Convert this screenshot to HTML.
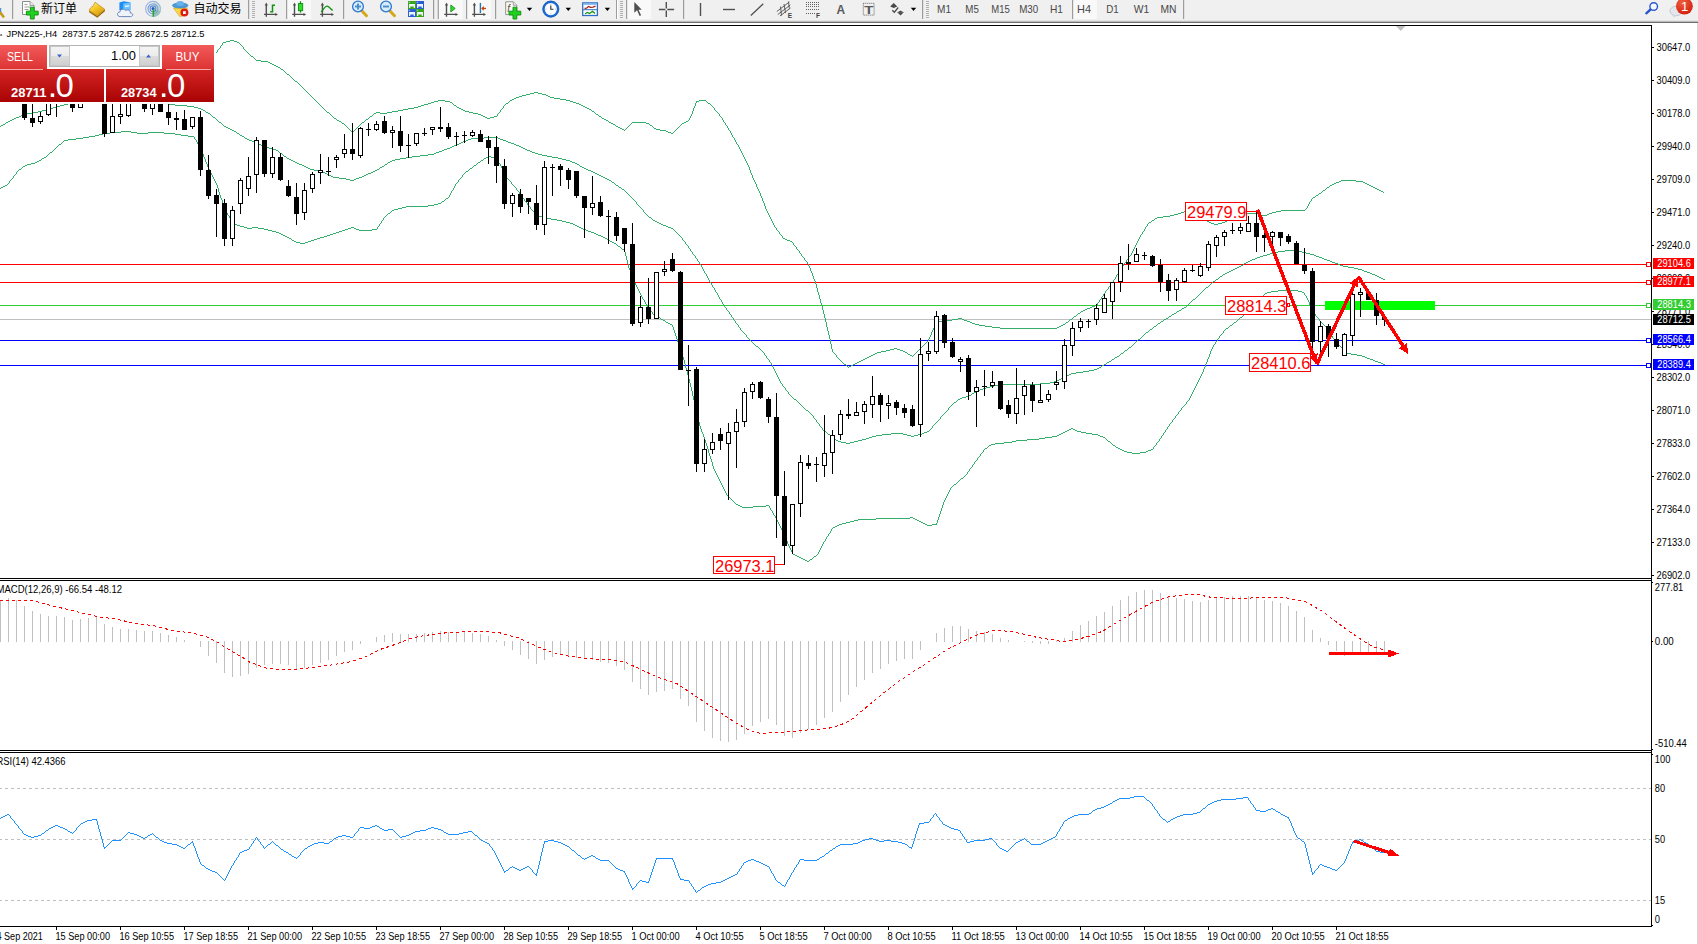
<!DOCTYPE html>
<html lang="zh"><head><meta charset="utf-8"><title>JPN225-,H4</title>
<style>html,body{margin:0;padding:0;background:#fff;overflow:hidden}svg{display:block}text{font-family:"Liberation Sans","Noto Sans CJK SC",sans-serif;white-space:pre}</style></head>
<body><svg width="1698" height="944" viewBox="0 0 1698 944">
<defs>
<linearGradient id="gSell" x1="0" y1="0" x2="0" y2="1"><stop offset="0" stop-color="#f25a5a"/><stop offset="1" stop-color="#dc3232"/></linearGradient>
<linearGradient id="gPrice" x1="0" y1="0" x2="0" y2="1"><stop offset="0" stop-color="#d42424"/><stop offset="1" stop-color="#a90303"/></linearGradient>
<linearGradient id="gBtn" x1="0" y1="0" x2="0" y2="1"><stop offset="0" stop-color="#f4f4f4"/><stop offset="0.5" stop-color="#ebebeb"/><stop offset="0.5" stop-color="#dddddd"/><stop offset="1" stop-color="#cfcfcf"/></linearGradient>
<linearGradient id="gGold" x1="0.1" y1="0" x2="0.8" y2="1"><stop offset="0" stop-color="#fff08c"/><stop offset="0.45" stop-color="#f6c624"/><stop offset="1" stop-color="#cc9414"/></linearGradient>
<linearGradient id="gBlue" x1="0" y1="0" x2="0" y2="1"><stop offset="0" stop-color="#9fd0ff"/><stop offset="1" stop-color="#2a78d8"/></linearGradient>
<radialGradient id="gRed" cx="0.4" cy="0.3" r="0.8"><stop offset="0" stop-color="#f06040"/><stop offset="1" stop-color="#d01808"/></radialGradient>
</defs>
<rect width="1698" height="944" fill="#fff"/>

<g shape-rendering="crispEdges">
<rect x="0" y="264" width="1647" height="1" fill="#ff0000" />
<rect x="0" y="282" width="1647" height="1" fill="#ff0000" />
<rect x="0" y="305" width="1647" height="1" fill="#32cd32" />
<rect x="0" y="319" width="1651" height="1" fill="#c0c0c0" />
<rect x="0" y="340" width="1647" height="1" fill="#0000ff" />
<rect x="0" y="365" width="1647" height="1" fill="#0000ff" />
<rect x="1325" y="301" width="110" height="9" fill="#00ff00"/>
</g>
<g shape-rendering="crispEdges">
<path d="M230 40h4v1h-4zM226 41h4v1h-4zM234 41h3v1h-3zM223 42h3v1h-3zM237 42h2v1h-2zM213 54h2v1h-2zM251 56h2v1h-2zM207 59h2v1h-2zM256 60h5v1h-5zM261 61h7v1h-7zM268 62h2v1h-2zM270 63h2v1h-2zM272 64h2v1h-2zM274 65h2v1h-2zM276 66h2v1h-2zM278 67h2v1h-2zM281 69h2v1h-2zM287 74h2v1h-2zM295 81h2v1h-2zM534 92h4v1h-4zM530 93h4v1h-4zM538 93h4v1h-4zM526 94h4v1h-4zM542 94h4v1h-4zM522 95h4v1h-4zM546 95h2v1h-2zM519 96h3v1h-3zM548 96h2v1h-2zM516 97h3v1h-3zM550 97h4v1h-4zM514 98h2v1h-2zM554 98h6v1h-6zM512 99h2v1h-2zM560 99h6v1h-6zM438 100h7v1h-7zM510 100h2v1h-2zM566 100h4v1h-4zM699 100h7v1h-7zM434 101h4v1h-4zM445 101h5v1h-5zM570 101h3v1h-3zM696 101h3v1h-3zM431 102h3v1h-3zM450 102h2v1h-2zM573 102h3v1h-3zM428 103h3v1h-3zM506 103h2v1h-2zM576 103h3v1h-3zM708 103h2v1h-2zM424 104h4v1h-4zM579 104h2v1h-2zM421 105h3v1h-3zM454 105h2v1h-2zM581 105h2v1h-2zM418 106h3v1h-3zM583 106h2v1h-2zM414 107h4v1h-4zM457 107h2v1h-2zM585 107h2v1h-2zM408 108h6v1h-6zM459 108h2v1h-2zM587 108h2v1h-2zM403 109h5v1h-5zM461 109h2v1h-2zM589 109h2v1h-2zM398 110h5v1h-5zM463 110h2v1h-2zM392 111h6v1h-6zM465 111h4v1h-4zM592 111h2v1h-2zM327 112h2v1h-2zM376 112h4v1h-4zM387 112h5v1h-5zM469 112h4v1h-4zM374 113h2v1h-2zM380 113h7v1h-7zM473 113h5v1h-5zM478 114h3v1h-3zM596 114h2v1h-2zM481 115h2v1h-2zM370 116h2v1h-2zM483 116h2v1h-2zM494 116h3v1h-3zM599 116h2v1h-2zM485 117h2v1h-2zM490 117h4v1h-4zM334 118h2v1h-2zM487 118h3v1h-3zM602 118h2v1h-2zM366 119h2v1h-2zM604 119h2v1h-2zM337 120h2v1h-2zM606 120h2v1h-2zM339 121h2v1h-2zM686 121h2v1h-2zM362 122h2v1h-2zM609 122h2v1h-2zM632 122h14v1h-14zM684 122h2v1h-2zM342 123h2v1h-2zM611 123h2v1h-2zM646 123h3v1h-3zM682 123h2v1h-2zM613 124h2v1h-2zM650 125h2v1h-2zM616 126h2v1h-2zM618 127h2v1h-2zM620 128h2v1h-2zM654 128h2v1h-2zM622 129h2v1h-2zM656 129h4v1h-4zM660 130h6v1h-6zM666 131h2v1h-2zM668 132h3v1h-3zM671 133h2v1h-2zM1341 180h15v1h-15zM1339 181h2v1h-2zM1356 181h7v1h-7zM1336 182h3v1h-3zM1363 182h2v1h-2zM1334 183h2v1h-2zM1365 183h2v1h-2zM1332 184h2v1h-2zM1367 184h2v1h-2zM1330 185h2v1h-2zM1369 185h2v1h-2zM1371 186h2v1h-2zM1327 187h2v1h-2zM1373 187h2v1h-2zM1375 188h2v1h-2zM1377 189h2v1h-2zM1323 190h2v1h-2zM1379 190h2v1h-2zM1381 191h2v1h-2zM1319 193h2v1h-2zM1316 195h2v1h-2zM1313 197h2v1h-2zM1281 210h24v1h-24zM1184 211h3v1h-3zM1276 211h5v1h-5zM1181 212h3v1h-3zM1187 212h4v1h-4zM1272 212h4v1h-4zM1178 213h3v1h-3zM1191 213h4v1h-4zM1245 213h13v1h-13zM1269 213h3v1h-3zM1174 214h4v1h-4zM1195 214h2v1h-2zM1243 214h2v1h-2zM1258 214h2v1h-2zM1267 214h2v1h-2zM1170 215h4v1h-4zM1197 215h2v1h-2zM1241 215h2v1h-2zM1260 215h7v1h-7zM1163 216h7v1h-7zM1238 216h3v1h-3zM1157 217h6v1h-6zM1200 217h2v1h-2zM1234 217h4v1h-4zM1155 218h2v1h-2zM1202 218h2v1h-2zM1231 218h3v1h-3zM1229 219h2v1h-2zM1152 220h2v1h-2zM1205 220h2v1h-2zM1227 220h2v1h-2zM1207 221h2v1h-2zM1225 221h2v1h-2zM1149 222h2v1h-2zM1209 222h2v1h-2zM1222 222h3v1h-3zM1211 223h3v1h-3zM1218 223h4v1h-4zM1214 224h4v1h-4zM783 238h2v1h-2zM785 239h2v1h-2zM787 240h3v1h-3zM790 241h2v1h-2zM1095 305h2v1h-2zM1092 306h3v1h-3zM1090 307h2v1h-2zM1087 308h3v1h-3zM1085 309h2v1h-2zM1083 310h2v1h-2zM1081 311h2v1h-2zM1078 313h2v1h-2zM1074 316h2v1h-2zM958 318h4v1h-4zM952 319h6v1h-6zM962 319h2v1h-2zM1070 319h2v1h-2zM943 320h9v1h-9zM964 320h3v1h-3zM936 321h7v1h-7zM967 321h3v1h-3zM970 322h2v1h-2zM1066 322h2v1h-2zM972 323h3v1h-3zM975 324h4v1h-4zM1063 324h2v1h-2zM979 325h6v1h-6zM1061 325h2v1h-2zM985 326h7v1h-7zM1059 326h2v1h-2zM992 327h8v1h-8zM1057 327h2v1h-2zM1000 328h57v1h-57zM894 348h3v1h-3zM890 349h4v1h-4zM897 349h3v1h-3zM886 350h4v1h-4zM900 350h3v1h-3zM881 351h5v1h-5zM903 351h2v1h-2zM877 352h4v1h-4zM905 352h2v1h-2zM875 353h2v1h-2zM873 354h2v1h-2zM908 354h2v1h-2zM871 355h2v1h-2zM910 355h2v1h-2zM869 356h2v1h-2zM867 357h2v1h-2zM865 358h2v1h-2zM863 359h2v1h-2zM861 360h2v1h-2zM859 361h2v1h-2zM857 362h2v1h-2zM855 363h2v1h-2zM844 364h2v1h-2zM853 364h2v1h-2zM851 365h2v1h-2zM849 366h2v1h-2zM204 62h1v1h-1zM205 61h1v1h-1zM206 60h1v1h-1zM209 58h1v1h-1zM210 57h1v1h-1zM211 56h1v1h-1zM212 55h1v1h-1zM215 53h1v1h-1zM216 52h1v1h-1zM217 50h1v2h-1zM218 49h1v1h-1zM219 48h1v1h-1zM220 46h1v2h-1zM221 45h1v1h-1zM222 43h1v2h-1zM239 43h1v1h-1zM240 44h1v1h-1zM241 45h1v1h-1zM242 46h1v1h-1zM243 47h1v2h-1zM244 49h1v1h-1zM245 50h1v1h-1zM246 51h1v1h-1zM247 52h1v1h-1zM248 53h1v1h-1zM249 54h1v1h-1zM250 55h1v1h-1zM253 57h1v1h-1zM254 58h1v1h-1zM255 59h1v1h-1zM280 68h1v1h-1zM283 70h1v1h-1zM284 71h1v1h-1zM285 72h1v1h-1zM286 73h1v1h-1zM289 75h1v1h-1zM290 76h1v1h-1zM291 77h1v1h-1zM292 78h1v1h-1zM293 79h1v1h-1zM294 80h1v1h-1zM297 82h1v1h-1zM298 83h1v1h-1zM299 84h1v1h-1zM300 85h1v1h-1zM301 86h1v1h-1zM302 87h1v1h-1zM303 88h1v1h-1zM304 89h1v1h-1zM305 90h1v1h-1zM306 91h1v1h-1zM307 92h1v1h-1zM308 93h1v1h-1zM309 94h1v1h-1zM310 95h1v1h-1zM311 96h1v1h-1zM312 97h1v1h-1zM313 98h1v1h-1zM314 99h1v1h-1zM315 100h1v1h-1zM316 101h1v1h-1zM317 102h1v1h-1zM318 103h1v1h-1zM319 104h1v1h-1zM320 105h1v1h-1zM321 106h1v1h-1zM322 107h1v1h-1zM323 108h1v1h-1zM324 109h1v1h-1zM325 110h1v1h-1zM326 111h1v1h-1zM329 113h1v1h-1zM330 114h1v1h-1zM331 115h1v1h-1zM332 116h1v1h-1zM333 117h1v1h-1zM336 119h1v1h-1zM341 122h1v1h-1zM344 124h1v1h-1zM345 125h1v1h-1zM346 126h1v1h-1zM347 127h1v1h-1zM348 128h1v1h-1zM349 129h1v1h-1zM350 130h1v1h-1zM351 131h1v1h-1zM352 132h1v1h-1zM353 131h1v1h-1zM354 130h1v1h-1zM355 129h1v1h-1zM356 128h1v1h-1zM357 127h1v1h-1zM358 126h1v1h-1zM359 125h1v1h-1zM360 124h1v1h-1zM361 123h1v1h-1zM364 121h1v1h-1zM365 120h1v1h-1zM368 118h1v1h-1zM369 117h1v1h-1zM372 115h1v1h-1zM373 114h1v1h-1zM452 103h1v1h-1zM453 104h1v1h-1zM456 106h1v1h-1zM497 114h1v2h-1zM498 113h1v1h-1zM499 112h1v1h-1zM500 110h1v2h-1zM501 109h1v1h-1zM502 108h1v1h-1zM503 106h1v2h-1zM504 105h1v1h-1zM505 104h1v1h-1zM508 102h1v1h-1zM509 101h1v1h-1zM591 110h1v1h-1zM594 112h1v1h-1zM595 113h1v1h-1zM598 115h1v1h-1zM601 117h1v1h-1zM608 121h1v1h-1zM615 125h1v1h-1zM624 130h1v1h-1zM625 129h1v1h-1zM626 128h1v1h-1zM627 127h1v1h-1zM628 126h1v1h-1zM629 125h1v1h-1zM630 124h1v1h-1zM631 123h1v1h-1zM649 124h1v1h-1zM652 126h1v1h-1zM653 127h1v1h-1zM673 132h1v1h-1zM674 131h1v1h-1zM675 130h1v1h-1zM676 129h1v1h-1zM677 128h1v1h-1zM678 127h1v1h-1zM679 126h1v1h-1zM680 125h1v1h-1zM681 124h1v1h-1zM688 120h1v1h-1zM689 118h1v2h-1zM690 116h1v2h-1zM691 114h1v2h-1zM692 111h1v3h-1zM693 108h1v3h-1zM694 106h1v2h-1zM695 103h1v3h-1zM696 102h1v1h-1zM706 101h1v1h-1zM707 102h1v1h-1zM710 104h1v1h-1zM711 105h1v1h-1zM712 106h1v1h-1zM713 107h1v1h-1zM714 108h1v2h-1zM715 110h1v1h-1zM716 111h1v1h-1zM717 112h1v1h-1zM718 113h1v1h-1zM719 114h1v2h-1zM720 116h1v1h-1zM721 117h1v1h-1zM722 118h1v2h-1zM723 120h1v2h-1zM724 122h1v1h-1zM725 123h1v2h-1zM726 125h1v1h-1zM727 126h1v2h-1zM728 128h1v2h-1zM729 130h1v1h-1zM730 131h1v2h-1zM731 133h1v2h-1zM732 135h1v2h-1zM733 137h1v1h-1zM734 138h1v2h-1zM735 140h1v2h-1zM736 142h1v2h-1zM737 144h1v1h-1zM738 145h1v2h-1zM739 147h1v2h-1zM740 149h1v2h-1zM741 151h1v2h-1zM742 153h1v2h-1zM743 155h1v2h-1zM744 157h1v2h-1zM745 159h1v2h-1zM746 161h1v2h-1zM747 163h1v2h-1zM748 165h1v2h-1zM749 167h1v3h-1zM750 170h1v3h-1zM751 173h1v2h-1zM752 175h1v3h-1zM753 178h1v2h-1zM754 180h1v2h-1zM755 182h1v2h-1zM756 184h1v3h-1zM757 187h1v2h-1zM758 189h1v2h-1zM759 191h1v2h-1zM760 193h1v3h-1zM761 196h1v2h-1zM762 198h1v3h-1zM763 201h1v2h-1zM764 203h1v3h-1zM765 206h1v3h-1zM766 209h1v2h-1zM767 211h1v2h-1zM768 213h1v2h-1zM769 215h1v2h-1zM770 217h1v2h-1zM771 219h1v2h-1zM772 221h1v2h-1zM773 223h1v2h-1zM774 225h1v2h-1zM775 227h1v1h-1zM776 228h1v2h-1zM777 230h1v1h-1zM778 231h1v1h-1zM779 232h1v2h-1zM780 234h1v1h-1zM781 235h1v1h-1zM782 236h1v2h-1zM792 242h1v1h-1zM793 243h1v2h-1zM794 245h1v1h-1zM795 246h1v1h-1zM796 247h1v2h-1zM797 249h1v1h-1zM798 250h1v1h-1zM799 251h1v2h-1zM800 253h1v1h-1zM801 254h1v2h-1zM802 256h1v1h-1zM803 257h1v1h-1zM804 258h1v2h-1zM805 260h1v1h-1zM806 261h1v1h-1zM807 262h1v2h-1zM808 264h1v2h-1zM809 266h1v2h-1zM810 268h1v3h-1zM811 271h1v2h-1zM812 273h1v3h-1zM813 276h1v3h-1zM814 279h1v2h-1zM815 281h1v3h-1zM816 284h1v4h-1zM817 288h1v4h-1zM818 292h1v3h-1zM819 295h1v4h-1zM820 299h1v4h-1zM821 303h1v3h-1zM822 306h1v4h-1zM823 310h1v4h-1zM824 314h1v4h-1zM825 318h1v4h-1zM826 322h1v5h-1zM827 327h1v4h-1zM828 331h1v4h-1zM829 335h1v4h-1zM830 339h1v5h-1zM831 344h1v5h-1zM832 349h1v3h-1zM833 352h1v1h-1zM834 353h1v1h-1zM835 354h1v1h-1zM836 355h1v2h-1zM837 357h1v1h-1zM838 358h1v1h-1zM839 359h1v1h-1zM840 360h1v1h-1zM841 361h1v1h-1zM842 362h1v1h-1zM843 363h1v1h-1zM846 365h1v1h-1zM847 366h1v1h-1zM848 367h1v1h-1zM907 353h1v1h-1zM912 356h1v1h-1zM913 355h1v1h-1zM914 354h1v1h-1zM915 353h1v1h-1zM916 352h1v1h-1zM917 351h1v1h-1zM918 350h1v1h-1zM919 349h1v1h-1zM920 348h1v1h-1zM921 347h1v1h-1zM922 346h1v1h-1zM923 345h1v1h-1zM924 344h1v1h-1zM925 343h1v1h-1zM926 342h1v1h-1zM927 341h1v1h-1zM928 339h1v2h-1zM929 337h1v2h-1zM930 335h1v2h-1zM931 332h1v3h-1zM932 330h1v2h-1zM933 328h1v2h-1zM934 325h1v3h-1zM935 323h1v2h-1zM936 322h1v1h-1zM1065 323h1v1h-1zM1068 321h1v1h-1zM1069 320h1v1h-1zM1072 318h1v1h-1zM1073 317h1v1h-1zM1076 315h1v1h-1zM1077 314h1v1h-1zM1080 312h1v1h-1zM1097 303h1v2h-1zM1098 302h1v1h-1zM1099 300h1v2h-1zM1100 299h1v1h-1zM1101 297h1v2h-1zM1102 296h1v1h-1zM1103 294h1v2h-1zM1104 293h1v1h-1zM1105 291h1v2h-1zM1106 290h1v1h-1zM1107 289h1v1h-1zM1108 287h1v2h-1zM1109 286h1v1h-1zM1110 284h1v2h-1zM1111 283h1v1h-1zM1112 282h1v1h-1zM1113 280h1v2h-1zM1114 279h1v1h-1zM1115 277h1v2h-1zM1116 275h1v2h-1zM1117 274h1v1h-1zM1118 272h1v2h-1zM1119 271h1v1h-1zM1120 269h1v2h-1zM1121 267h1v2h-1zM1122 266h1v1h-1zM1123 264h1v2h-1zM1124 263h1v1h-1zM1125 262h1v1h-1zM1126 260h1v2h-1zM1127 259h1v1h-1zM1128 257h1v2h-1zM1129 256h1v1h-1zM1130 255h1v1h-1zM1131 253h1v2h-1zM1132 251h1v2h-1zM1133 249h1v2h-1zM1134 247h1v2h-1zM1135 245h1v2h-1zM1136 243h1v2h-1zM1137 241h1v2h-1zM1138 239h1v2h-1zM1139 237h1v2h-1zM1140 235h1v2h-1zM1141 234h1v1h-1zM1142 232h1v2h-1zM1143 231h1v1h-1zM1144 229h1v2h-1zM1145 227h1v2h-1zM1146 226h1v1h-1zM1147 224h1v2h-1zM1148 223h1v1h-1zM1151 221h1v1h-1zM1154 219h1v1h-1zM1199 216h1v1h-1zM1204 219h1v1h-1zM1305 209h1v1h-1zM1306 208h1v1h-1zM1307 206h1v2h-1zM1308 204h1v2h-1zM1309 202h1v2h-1zM1310 201h1v1h-1zM1311 199h1v2h-1zM1312 198h1v1h-1zM1315 196h1v1h-1zM1318 194h1v1h-1zM1321 192h1v1h-1zM1322 191h1v1h-1zM1325 189h1v1h-1zM1326 188h1v1h-1zM1329 186h1v1h-1zM1383 192h1v1h-1z" fill="#34ae6a"/>
<path d="M95 98h58v1h-58zM84 99h11v1h-11zM153 99h6v1h-6zM77 100h7v1h-7zM159 100h4v1h-4zM74 101h3v1h-3zM163 101h2v1h-2zM72 102h2v1h-2zM165 102h2v1h-2zM68 103h4v1h-4zM167 103h2v1h-2zM64 104h4v1h-4zM169 104h6v1h-6zM60 105h4v1h-4zM175 105h12v1h-12zM56 106h4v1h-4zM187 106h7v1h-7zM53 107h3v1h-3zM194 107h4v1h-4zM49 108h4v1h-4zM198 108h3v1h-3zM46 109h3v1h-3zM201 109h2v1h-2zM42 110h4v1h-4zM203 110h2v1h-2zM38 111h4v1h-4zM32 112h6v1h-6zM206 112h2v1h-2zM27 113h5v1h-5zM208 113h2v1h-2zM23 114h4v1h-4zM21 115h2v1h-2zM19 116h2v1h-2zM16 117h3v1h-3zM213 117h2v1h-2zM14 118h2v1h-2zM12 119h2v1h-2zM10 120h2v1h-2zM8 121h2v1h-2zM6 122h2v1h-2zM219 122h2v1h-2zM3 124h2v1h-2zM1 125h2v1h-2zM224 126h2v1h-2zM226 127h2v1h-2zM228 128h2v1h-2zM230 129h2v1h-2zM232 130h2v1h-2zM234 131h2v1h-2zM237 133h2v1h-2zM240 135h2v1h-2zM242 136h2v1h-2zM484 137h14v1h-14zM245 138h2v1h-2zM471 138h13v1h-13zM498 138h2v1h-2zM247 139h2v1h-2zM468 139h3v1h-3zM500 139h3v1h-3zM249 140h3v1h-3zM466 140h2v1h-2zM503 140h3v1h-3zM252 141h3v1h-3zM463 141h3v1h-3zM506 141h2v1h-2zM255 142h2v1h-2zM461 142h2v1h-2zM508 142h3v1h-3zM257 143h2v1h-2zM459 143h2v1h-2zM511 143h3v1h-3zM259 144h2v1h-2zM456 144h3v1h-3zM514 144h2v1h-2zM261 145h2v1h-2zM454 145h2v1h-2zM516 145h3v1h-3zM263 146h2v1h-2zM452 146h2v1h-2zM519 146h2v1h-2zM265 147h4v1h-4zM450 147h2v1h-2zM521 147h2v1h-2zM269 148h4v1h-4zM447 148h3v1h-3zM523 148h2v1h-2zM273 149h3v1h-3zM444 149h3v1h-3zM525 149h2v1h-2zM276 150h2v1h-2zM442 150h2v1h-2zM527 150h3v1h-3zM439 151h3v1h-3zM530 151h2v1h-2zM436 152h3v1h-3zM532 152h3v1h-3zM280 153h2v1h-2zM434 153h2v1h-2zM535 153h3v1h-3zM428 154h6v1h-6zM538 154h4v1h-4zM420 155h8v1h-8zM542 155h5v1h-5zM284 156h2v1h-2zM412 156h8v1h-8zM547 156h5v1h-5zM406 157h6v1h-6zM552 157h6v1h-6zM287 158h2v1h-2zM400 158h6v1h-6zM558 158h4v1h-4zM289 159h2v1h-2zM395 159h5v1h-5zM562 159h4v1h-4zM291 160h2v1h-2zM392 160h3v1h-3zM566 160h4v1h-4zM293 161h2v1h-2zM390 161h2v1h-2zM570 161h2v1h-2zM295 162h2v1h-2zM388 162h2v1h-2zM572 162h3v1h-3zM297 163h2v1h-2zM575 163h2v1h-2zM299 164h3v1h-3zM385 164h2v1h-2zM577 164h2v1h-2zM302 165h2v1h-2zM304 166h2v1h-2zM382 166h2v1h-2zM580 166h2v1h-2zM306 167h2v1h-2zM380 167h2v1h-2zM582 167h2v1h-2zM308 168h2v1h-2zM584 168h2v1h-2zM310 169h4v1h-4zM377 169h2v1h-2zM586 169h2v1h-2zM314 170h6v1h-6zM375 170h2v1h-2zM588 170h3v1h-3zM320 171h3v1h-3zM373 171h2v1h-2zM591 171h2v1h-2zM323 172h2v1h-2zM371 172h2v1h-2zM593 172h2v1h-2zM325 173h2v1h-2zM368 173h3v1h-3zM595 173h2v1h-2zM327 174h2v1h-2zM366 174h2v1h-2zM597 174h2v1h-2zM329 175h2v1h-2zM364 175h2v1h-2zM599 175h2v1h-2zM331 176h2v1h-2zM362 176h2v1h-2zM601 176h2v1h-2zM333 177h6v1h-6zM359 177h3v1h-3zM603 177h2v1h-2zM339 178h7v1h-7zM356 178h3v1h-3zM605 178h2v1h-2zM346 179h4v1h-4zM354 179h2v1h-2zM607 179h2v1h-2zM350 180h4v1h-4zM609 180h2v1h-2zM612 182h2v1h-2zM616 185h2v1h-2zM619 187h2v1h-2zM622 189h2v1h-2zM649 217h2v1h-2zM653 220h2v1h-2zM655 221h2v1h-2zM657 222h2v1h-2zM659 223h2v1h-2zM661 224h2v1h-2zM663 225h3v1h-3zM666 226h2v1h-2zM668 227h3v1h-3zM671 228h2v1h-2zM1285 250h13v1h-13zM1278 251h7v1h-7zM1298 251h4v1h-4zM1274 252h4v1h-4zM1302 252h4v1h-4zM1270 253h4v1h-4zM1306 253h4v1h-4zM1267 254h3v1h-3zM1310 254h4v1h-4zM1263 255h4v1h-4zM1314 255h2v1h-2zM1260 256h3v1h-3zM1316 256h3v1h-3zM1257 257h3v1h-3zM1319 257h3v1h-3zM1255 258h2v1h-2zM1322 258h2v1h-2zM1252 259h3v1h-3zM1324 259h3v1h-3zM1250 260h2v1h-2zM1327 260h3v1h-3zM1248 261h2v1h-2zM1330 261h2v1h-2zM1246 262h2v1h-2zM1332 262h3v1h-3zM1244 263h2v1h-2zM1335 263h3v1h-3zM1338 264h2v1h-2zM1241 265h2v1h-2zM1340 265h3v1h-3zM1239 266h2v1h-2zM1343 266h5v1h-5zM1237 267h2v1h-2zM1348 267h6v1h-6zM1235 268h2v1h-2zM1354 268h4v1h-4zM1233 269h2v1h-2zM1358 269h4v1h-4zM1231 270h2v1h-2zM1362 270h2v1h-2zM1229 271h2v1h-2zM1364 271h3v1h-3zM1227 272h2v1h-2zM1367 272h3v1h-3zM1225 273h2v1h-2zM1370 273h2v1h-2zM1223 274h2v1h-2zM1372 274h3v1h-3zM1375 275h2v1h-2zM1220 276h2v1h-2zM1377 276h2v1h-2zM1379 277h2v1h-2zM1381 278h2v1h-2zM1216 279h2v1h-2zM1383 279h2v1h-2zM1213 281h2v1h-2zM1206 287h2v1h-2zM1193 299h2v1h-2zM1184 307h2v1h-2zM1182 308h2v1h-2zM1179 310h2v1h-2zM1177 311h2v1h-2zM1174 313h2v1h-2zM1172 314h2v1h-2zM1169 316h2v1h-2zM1166 318h2v1h-2zM1164 319h2v1h-2zM1161 321h2v1h-2zM1158 323h2v1h-2zM1154 326h2v1h-2zM1150 329h2v1h-2zM1146 332h2v1h-2zM1138 339h2v1h-2zM756 346h2v1h-2zM1129 347h2v1h-2zM1125 350h2v1h-2zM1121 353h2v1h-2zM1117 356h2v1h-2zM1115 357h2v1h-2zM1112 359h2v1h-2zM1109 361h2v1h-2zM1107 362h2v1h-2zM1104 364h2v1h-2zM1102 365h2v1h-2zM1099 367h2v1h-2zM1097 368h2v1h-2zM1094 369h3v1h-3zM1089 370h5v1h-5zM1083 371h6v1h-6zM1076 372h7v1h-7zM1071 373h5v1h-5zM1069 374h2v1h-2zM1067 375h2v1h-2zM1065 376h2v1h-2zM1063 377h2v1h-2zM1061 378h2v1h-2zM1059 379h2v1h-2zM1057 380h2v1h-2zM1054 381h3v1h-3zM1050 382h4v1h-4zM1040 383h10v1h-10zM998 384h42v1h-42zM994 385h4v1h-4zM990 386h4v1h-4zM986 387h4v1h-4zM983 388h3v1h-3zM980 389h3v1h-3zM978 390h2v1h-2zM976 391h2v1h-2zM974 392h2v1h-2zM972 393h2v1h-2zM969 395h2v1h-2zM966 396h3v1h-3zM962 397h4v1h-4zM960 398h2v1h-2zM794 399h2v1h-2zM958 399h2v1h-2zM954 402h2v1h-2zM806 410h2v1h-2zM824 431h2v1h-2zM927 431h2v1h-2zM924 432h3v1h-3zM891 433h12v1h-12zM922 433h2v1h-2zM828 434h2v1h-2zM882 434h9v1h-9zM903 434h4v1h-4zM918 434h4v1h-4zM876 435h6v1h-6zM907 435h4v1h-4zM914 435h4v1h-4zM872 436h4v1h-4zM911 436h3v1h-3zM832 437h2v1h-2zM869 437h3v1h-3zM866 438h3v1h-3zM862 439h4v1h-4zM836 440h2v1h-2zM858 440h4v1h-4zM838 441h3v1h-3zM854 441h4v1h-4zM841 442h5v1h-5zM850 442h4v1h-4zM846 443h4v1h-4zM0 126h1v1h-1zM5 123h1v1h-1zM205 111h1v1h-1zM210 114h1v1h-1zM211 115h1v1h-1zM212 116h1v1h-1zM215 118h1v1h-1zM216 119h1v1h-1zM217 120h1v1h-1zM218 121h1v1h-1zM221 123h1v1h-1zM222 124h1v1h-1zM223 125h1v1h-1zM236 132h1v1h-1zM239 134h1v1h-1zM244 137h1v1h-1zM278 151h1v1h-1zM279 152h1v1h-1zM282 154h1v1h-1zM283 155h1v1h-1zM286 157h1v1h-1zM379 168h1v1h-1zM384 165h1v1h-1zM387 163h1v1h-1zM579 165h1v1h-1zM611 181h1v1h-1zM614 183h1v1h-1zM615 184h1v1h-1zM618 186h1v1h-1zM621 188h1v1h-1zM624 190h1v1h-1zM625 191h1v1h-1zM626 192h1v1h-1zM627 193h1v1h-1zM628 194h1v1h-1zM629 195h1v1h-1zM630 196h1v1h-1zM631 197h1v1h-1zM632 198h1v1h-1zM633 199h1v1h-1zM634 200h1v1h-1zM635 201h1v1h-1zM636 202h1v2h-1zM637 204h1v1h-1zM638 205h1v1h-1zM639 206h1v1h-1zM640 207h1v1h-1zM641 208h1v1h-1zM642 209h1v1h-1zM643 210h1v2h-1zM644 212h1v1h-1zM645 213h1v1h-1zM646 214h1v1h-1zM647 215h1v1h-1zM648 216h1v1h-1zM651 218h1v1h-1zM652 219h1v1h-1zM673 229h1v1h-1zM674 230h1v1h-1zM675 231h1v1h-1zM676 232h1v1h-1zM677 233h1v1h-1zM678 234h1v1h-1zM679 235h1v1h-1zM680 236h1v1h-1zM681 237h1v1h-1zM682 238h1v2h-1zM683 240h1v1h-1zM684 241h1v1h-1zM685 242h1v2h-1zM686 244h1v1h-1zM687 245h1v1h-1zM688 246h1v2h-1zM689 248h1v1h-1zM690 249h1v2h-1zM691 251h1v1h-1zM692 252h1v2h-1zM693 254h1v1h-1zM694 255h1v1h-1zM695 256h1v2h-1zM696 258h1v1h-1zM697 259h1v2h-1zM698 261h1v1h-1zM699 262h1v2h-1zM700 264h1v1h-1zM701 265h1v2h-1zM702 267h1v2h-1zM703 269h1v2h-1zM704 271h1v2h-1zM705 273h1v1h-1zM706 274h1v2h-1zM707 276h1v2h-1zM708 278h1v2h-1zM709 280h1v2h-1zM710 282h1v1h-1zM711 283h1v2h-1zM712 285h1v2h-1zM713 287h1v1h-1zM714 288h1v2h-1zM715 290h1v2h-1zM716 292h1v1h-1zM717 293h1v2h-1zM718 295h1v2h-1zM719 297h1v2h-1zM720 299h1v1h-1zM721 300h1v2h-1zM722 302h1v2h-1zM723 304h1v1h-1zM724 305h1v2h-1zM725 307h1v1h-1zM726 308h1v2h-1zM727 310h1v1h-1zM728 311h1v1h-1zM729 312h1v2h-1zM730 314h1v1h-1zM731 315h1v2h-1zM732 317h1v1h-1zM733 318h1v2h-1zM734 320h1v1h-1zM735 321h1v2h-1zM736 323h1v1h-1zM737 324h1v1h-1zM738 325h1v2h-1zM739 327h1v1h-1zM740 328h1v2h-1zM741 330h1v1h-1zM742 331h1v1h-1zM743 332h1v1h-1zM744 333h1v1h-1zM745 334h1v1h-1zM746 335h1v2h-1zM747 337h1v1h-1zM748 338h1v1h-1zM749 339h1v1h-1zM750 340h1v1h-1zM751 341h1v1h-1zM752 342h1v1h-1zM753 343h1v1h-1zM754 344h1v1h-1zM755 345h1v1h-1zM758 347h1v1h-1zM759 348h1v1h-1zM760 349h1v1h-1zM761 350h1v1h-1zM762 351h1v1h-1zM763 352h1v1h-1zM764 353h1v2h-1zM765 355h1v1h-1zM766 356h1v2h-1zM767 358h1v1h-1zM768 359h1v1h-1zM769 360h1v2h-1zM770 362h1v1h-1zM771 363h1v2h-1zM772 365h1v2h-1zM773 367h1v2h-1zM774 369h1v2h-1zM775 371h1v2h-1zM776 373h1v2h-1zM777 375h1v2h-1zM778 377h1v2h-1zM779 379h1v2h-1zM780 381h1v2h-1zM781 383h1v1h-1zM782 384h1v2h-1zM783 386h1v1h-1zM784 387h1v1h-1zM785 388h1v2h-1zM786 390h1v1h-1zM787 391h1v1h-1zM788 392h1v2h-1zM789 394h1v1h-1zM790 395h1v1h-1zM791 396h1v1h-1zM792 397h1v1h-1zM793 398h1v1h-1zM796 400h1v1h-1zM797 401h1v1h-1zM798 402h1v1h-1zM799 403h1v1h-1zM800 404h1v1h-1zM801 405h1v1h-1zM802 406h1v1h-1zM803 407h1v1h-1zM804 408h1v1h-1zM805 409h1v1h-1zM808 411h1v1h-1zM809 412h1v1h-1zM810 413h1v1h-1zM811 414h1v1h-1zM812 415h1v1h-1zM813 416h1v2h-1zM814 418h1v1h-1zM815 419h1v1h-1zM816 420h1v2h-1zM817 422h1v1h-1zM818 423h1v1h-1zM819 424h1v2h-1zM820 426h1v1h-1zM821 427h1v1h-1zM822 428h1v2h-1zM823 430h1v1h-1zM826 432h1v1h-1zM827 433h1v1h-1zM830 435h1v1h-1zM831 436h1v1h-1zM834 438h1v1h-1zM835 439h1v1h-1zM929 430h1v1h-1zM930 429h1v1h-1zM931 428h1v1h-1zM932 426h1v2h-1zM933 425h1v1h-1zM934 424h1v1h-1zM935 423h1v1h-1zM936 422h1v1h-1zM937 421h1v1h-1zM938 420h1v1h-1zM939 419h1v1h-1zM940 417h1v2h-1zM941 416h1v1h-1zM942 415h1v1h-1zM943 414h1v1h-1zM944 413h1v1h-1zM945 412h1v1h-1zM946 411h1v1h-1zM947 410h1v1h-1zM948 408h1v2h-1zM949 407h1v1h-1zM950 406h1v1h-1zM951 405h1v1h-1zM952 404h1v1h-1zM953 403h1v1h-1zM956 401h1v1h-1zM957 400h1v1h-1zM971 394h1v1h-1zM1101 366h1v1h-1zM1106 363h1v1h-1zM1111 360h1v1h-1zM1114 358h1v1h-1zM1119 355h1v1h-1zM1120 354h1v1h-1zM1123 352h1v1h-1zM1124 351h1v1h-1zM1127 349h1v1h-1zM1128 348h1v1h-1zM1131 346h1v1h-1zM1132 345h1v1h-1zM1133 344h1v1h-1zM1134 343h1v1h-1zM1135 342h1v1h-1zM1136 341h1v1h-1zM1137 340h1v1h-1zM1140 338h1v1h-1zM1141 337h1v1h-1zM1142 336h1v1h-1zM1143 335h1v1h-1zM1144 334h1v1h-1zM1145 333h1v1h-1zM1148 331h1v1h-1zM1149 330h1v1h-1zM1152 328h1v1h-1zM1153 327h1v1h-1zM1156 325h1v1h-1zM1157 324h1v1h-1zM1160 322h1v1h-1zM1163 320h1v1h-1zM1168 317h1v1h-1zM1171 315h1v1h-1zM1176 312h1v1h-1zM1181 309h1v1h-1zM1186 306h1v1h-1zM1187 305h1v1h-1zM1188 304h1v1h-1zM1189 303h1v1h-1zM1190 302h1v1h-1zM1191 301h1v1h-1zM1192 300h1v1h-1zM1195 298h1v1h-1zM1196 297h1v1h-1zM1197 296h1v1h-1zM1198 295h1v1h-1zM1199 294h1v1h-1zM1200 293h1v1h-1zM1201 292h1v1h-1zM1202 291h1v1h-1zM1203 290h1v1h-1zM1204 289h1v1h-1zM1205 288h1v1h-1zM1208 286h1v1h-1zM1209 285h1v1h-1zM1210 284h1v1h-1zM1211 283h1v1h-1zM1212 282h1v1h-1zM1215 280h1v1h-1zM1218 278h1v1h-1zM1219 277h1v1h-1zM1222 275h1v1h-1zM1243 264h1v1h-1z" fill="#34ae6a"/>
<path d="M121 131h10v1h-10zM110 132h11v1h-11zM131 132h6v1h-6zM148 132h16v1h-16zM103 133h7v1h-7zM137 133h11v1h-11zM164 133h11v1h-11zM99 134h4v1h-4zM175 134h6v1h-6zM95 135h4v1h-4zM181 135h7v1h-7zM89 136h6v1h-6zM188 136h6v1h-6zM83 137h6v1h-6zM76 138h7v1h-7zM68 139h8v1h-8zM64 140h4v1h-4zM59 144h2v1h-2zM50 152h2v1h-2zM488 156h3v1h-3zM44 157h2v1h-2zM486 157h2v1h-2zM491 157h4v1h-4zM42 158h2v1h-2zM484 158h2v1h-2zM39 160h2v1h-2zM481 160h2v1h-2zM37 161h2v1h-2zM35 162h2v1h-2zM478 162h2v1h-2zM31 163h4v1h-4zM27 164h4v1h-4zM25 165h2v1h-2zM474 165h2v1h-2zM23 166h2v1h-2zM470 168h2v1h-2zM19 169h2v1h-2zM466 171h2v1h-2zM5 185h2v1h-2zM3 186h2v1h-2zM1 187h2v1h-2zM446 198h2v1h-2zM442 201h2v1h-2zM438 203h3v1h-3zM434 204h4v1h-4zM428 205h6v1h-6zM406 206h22v1h-22zM402 207h4v1h-4zM398 208h4v1h-4zM394 209h4v1h-4zM392 210h2v1h-2zM388 213h2v1h-2zM535 213h2v1h-2zM539 216h3v1h-3zM542 217h4v1h-4zM546 218h5v1h-5zM551 219h6v1h-6zM557 220h5v1h-5zM562 221h4v1h-4zM566 222h4v1h-4zM570 223h3v1h-3zM235 224h2v1h-2zM573 224h2v1h-2zM237 225h3v1h-3zM575 225h2v1h-2zM240 226h4v1h-4zM577 226h2v1h-2zM244 227h3v1h-3zM252 227h6v1h-6zM351 227h3v1h-3zM579 227h2v1h-2zM247 228h5v1h-5zM258 228h6v1h-6zM348 228h3v1h-3zM354 228h2v1h-2zM581 228h2v1h-2zM264 229h4v1h-4zM345 229h3v1h-3zM356 229h3v1h-3zM372 229h5v1h-5zM583 229h3v1h-3zM268 230h4v1h-4zM342 230h3v1h-3zM359 230h13v1h-13zM586 230h2v1h-2zM272 231h4v1h-4zM339 231h3v1h-3zM588 231h3v1h-3zM276 232h3v1h-3zM336 232h3v1h-3zM591 232h3v1h-3zM279 233h2v1h-2zM333 233h3v1h-3zM594 233h2v1h-2zM281 234h2v1h-2zM330 234h3v1h-3zM596 234h2v1h-2zM283 235h2v1h-2zM327 235h3v1h-3zM598 235h3v1h-3zM285 236h2v1h-2zM324 236h3v1h-3zM601 236h2v1h-2zM287 237h2v1h-2zM320 237h4v1h-4zM603 237h2v1h-2zM289 238h2v1h-2zM317 238h3v1h-3zM605 238h2v1h-2zM314 239h3v1h-3zM607 239h2v1h-2zM292 240h2v1h-2zM311 240h3v1h-3zM294 241h2v1h-2zM308 241h3v1h-3zM610 241h2v1h-2zM296 242h4v1h-4zM305 242h3v1h-3zM612 242h2v1h-2zM300 243h5v1h-5zM614 243h2v1h-2zM618 246h2v1h-2zM622 249h2v1h-2zM1278 290h20v1h-20zM1271 291h7v1h-7zM1298 291h4v1h-4zM1267 292h4v1h-4zM1302 292h2v1h-2zM1265 293h2v1h-2zM654 315h2v1h-2zM656 316h2v1h-2zM658 317h2v1h-2zM1240 317h2v1h-2zM661 319h2v1h-2zM663 320h2v1h-2zM666 322h2v1h-2zM1234 322h2v1h-2zM668 323h2v1h-2zM670 324h2v1h-2zM1230 325h2v1h-2zM1226 328h2v1h-2zM1345 352h2v1h-2zM1347 353h4v1h-4zM1351 354h6v1h-6zM1357 355h5v1h-5zM1362 356h3v1h-3zM1365 357h2v1h-2zM1367 358h3v1h-3zM1370 359h3v1h-3zM1373 360h2v1h-2zM1375 361h3v1h-3zM1378 362h3v1h-3zM1381 363h2v1h-2zM1383 364h2v1h-2zM1071 428h2v1h-2zM1069 429h2v1h-2zM1073 429h2v1h-2zM1067 430h2v1h-2zM1075 430h2v1h-2zM1065 431h2v1h-2zM1077 431h4v1h-4zM1063 432h2v1h-2zM1081 432h5v1h-5zM1061 433h2v1h-2zM1086 433h6v1h-6zM1059 434h2v1h-2zM1092 434h6v1h-6zM1057 435h2v1h-2zM1098 435h2v1h-2zM1052 436h5v1h-5zM1100 436h3v1h-3zM1045 437h7v1h-7zM1103 437h2v1h-2zM1039 438h6v1h-6zM1027 439h12v1h-12zM1016 440h11v1h-11zM1012 441h4v1h-4zM1108 441h2v1h-2zM1004 442h8v1h-8zM995 443h9v1h-9zM991 444h4v1h-4zM989 445h2v1h-2zM1113 445h2v1h-2zM1116 447h2v1h-2zM985 448h2v1h-2zM1118 448h2v1h-2zM1120 449h2v1h-2zM1151 449h2v1h-2zM1122 450h2v1h-2zM1148 450h3v1h-3zM1124 451h3v1h-3zM1146 451h2v1h-2zM1127 452h5v1h-5zM1140 452h6v1h-6zM1132 453h8v1h-8zM961 478h2v1h-2zM954 484h2v1h-2zM736 504h2v1h-2zM738 505h2v1h-2zM766 505h3v1h-3zM740 506h2v1h-2zM753 506h13v1h-13zM742 507h11v1h-11zM910 517h3v1h-3zM876 518h34v1h-34zM913 518h2v1h-2zM858 519h18v1h-18zM915 519h2v1h-2zM854 520h4v1h-4zM917 520h2v1h-2zM850 521h4v1h-4zM919 521h2v1h-2zM846 522h4v1h-4zM921 522h2v1h-2zM842 523h4v1h-4zM923 523h2v1h-2zM839 524h3v1h-3zM925 524h2v1h-2zM932 524h5v1h-5zM837 525h2v1h-2zM927 525h5v1h-5zM835 526h2v1h-2zM833 527h2v1h-2zM793 554h2v1h-2zM795 555h2v1h-2zM797 556h2v1h-2zM814 556h2v1h-2zM799 557h2v1h-2zM801 558h2v1h-2zM803 559h2v1h-2zM810 559h2v1h-2zM805 560h2v1h-2zM807 561h2v1h-2zM0 188h1v1h-1zM7 184h1v1h-1zM8 183h1v1h-1zM9 181h1v2h-1zM10 180h1v1h-1zM11 179h1v1h-1zM12 178h1v1h-1zM13 176h1v2h-1zM14 175h1v1h-1zM15 174h1v1h-1zM16 172h1v2h-1zM17 171h1v1h-1zM18 170h1v1h-1zM21 168h1v1h-1zM22 167h1v1h-1zM41 159h1v1h-1zM46 156h1v1h-1zM47 155h1v1h-1zM48 154h1v1h-1zM49 153h1v1h-1zM52 151h1v1h-1zM53 150h1v1h-1zM54 149h1v1h-1zM55 148h1v1h-1zM56 147h1v1h-1zM57 146h1v1h-1zM58 145h1v1h-1zM61 143h1v1h-1zM62 142h1v1h-1zM63 141h1v1h-1zM194 137h1v2h-1zM195 139h1v1h-1zM196 140h1v2h-1zM197 142h1v2h-1zM198 144h1v2h-1zM199 146h1v2h-1zM200 148h1v2h-1zM201 150h1v2h-1zM202 152h1v2h-1zM203 154h1v3h-1zM204 157h1v2h-1zM205 159h1v3h-1zM206 162h1v2h-1zM207 164h1v3h-1zM208 167h1v2h-1zM209 169h1v2h-1zM210 171h1v2h-1zM211 173h1v2h-1zM212 175h1v2h-1zM213 177h1v2h-1zM214 179h1v2h-1zM215 181h1v2h-1zM216 183h1v2h-1zM217 185h1v3h-1zM218 188h1v4h-1zM219 192h1v3h-1zM220 195h1v3h-1zM221 198h1v2h-1zM222 200h1v3h-1zM223 203h1v3h-1zM224 206h1v2h-1zM225 208h1v3h-1zM226 211h1v2h-1zM227 213h1v2h-1zM228 215h1v1h-1zM229 216h1v2h-1zM230 218h1v1h-1zM231 219h1v2h-1zM232 221h1v1h-1zM233 222h1v1h-1zM234 223h1v1h-1zM291 239h1v1h-1zM377 227h1v2h-1zM378 226h1v1h-1zM379 224h1v2h-1zM380 223h1v1h-1zM381 221h1v2h-1zM382 220h1v1h-1zM383 218h1v2h-1zM384 217h1v1h-1zM385 216h1v1h-1zM386 215h1v1h-1zM387 214h1v1h-1zM390 212h1v1h-1zM391 211h1v1h-1zM441 202h1v1h-1zM444 200h1v1h-1zM445 199h1v1h-1zM448 197h1v1h-1zM449 195h1v2h-1zM450 193h1v2h-1zM451 191h1v2h-1zM452 190h1v1h-1zM453 188h1v2h-1zM454 186h1v2h-1zM455 184h1v2h-1zM456 183h1v1h-1zM457 182h1v1h-1zM458 180h1v2h-1zM459 179h1v1h-1zM460 178h1v1h-1zM461 177h1v1h-1zM462 175h1v2h-1zM463 174h1v1h-1zM464 173h1v1h-1zM465 172h1v1h-1zM468 170h1v1h-1zM469 169h1v1h-1zM472 167h1v1h-1zM473 166h1v1h-1zM476 164h1v1h-1zM477 163h1v1h-1zM480 161h1v1h-1zM483 159h1v1h-1zM495 158h1v1h-1zM496 159h1v1h-1zM497 160h1v2h-1zM498 162h1v1h-1zM499 163h1v1h-1zM500 164h1v2h-1zM501 166h1v2h-1zM502 168h1v2h-1zM503 170h1v2h-1zM504 172h1v2h-1zM505 174h1v2h-1zM506 176h1v2h-1zM507 178h1v1h-1zM508 179h1v1h-1zM509 180h1v1h-1zM510 181h1v1h-1zM511 182h1v2h-1zM512 184h1v1h-1zM513 185h1v1h-1zM514 186h1v1h-1zM515 187h1v1h-1zM516 188h1v2h-1zM517 190h1v1h-1zM518 191h1v1h-1zM519 192h1v2h-1zM520 194h1v1h-1zM521 195h1v1h-1zM522 196h1v2h-1zM523 198h1v1h-1zM524 199h1v2h-1zM525 201h1v1h-1zM526 202h1v1h-1zM527 203h1v2h-1zM528 205h1v1h-1zM529 206h1v1h-1zM530 207h1v2h-1zM531 209h1v1h-1zM532 210h1v1h-1zM533 211h1v1h-1zM534 212h1v1h-1zM537 214h1v1h-1zM538 215h1v1h-1zM609 240h1v1h-1zM616 244h1v1h-1zM617 245h1v1h-1zM620 247h1v1h-1zM621 248h1v1h-1zM624 250h1v2h-1zM625 252h1v4h-1zM626 256h1v4h-1zM627 260h1v4h-1zM628 264h1v4h-1zM629 268h1v2h-1zM630 270h1v3h-1zM631 273h1v2h-1zM632 275h1v3h-1zM633 278h1v3h-1zM634 281h1v2h-1zM635 283h1v2h-1zM636 285h1v2h-1zM637 287h1v2h-1zM638 289h1v2h-1zM639 291h1v2h-1zM640 293h1v2h-1zM641 295h1v2h-1zM642 297h1v2h-1zM643 299h1v1h-1zM644 300h1v2h-1zM645 302h1v2h-1zM646 304h1v1h-1zM647 305h1v2h-1zM648 307h1v1h-1zM649 308h1v2h-1zM650 310h1v1h-1zM651 311h1v1h-1zM652 312h1v2h-1zM653 314h1v1h-1zM660 318h1v1h-1zM665 321h1v1h-1zM672 325h1v2h-1zM673 327h1v3h-1zM674 330h1v3h-1zM675 333h1v3h-1zM676 336h1v3h-1zM677 339h1v3h-1zM678 342h1v3h-1zM679 345h1v3h-1zM680 348h1v3h-1zM681 351h1v3h-1zM682 354h1v3h-1zM683 357h1v3h-1zM684 360h1v4h-1zM685 364h1v4h-1zM686 368h1v3h-1zM687 371h1v4h-1zM688 375h1v4h-1zM689 379h1v4h-1zM690 383h1v4h-1zM691 387h1v4h-1zM692 391h1v5h-1zM693 396h1v4h-1zM694 400h1v4h-1zM695 404h1v5h-1zM696 409h1v4h-1zM697 413h1v5h-1zM698 418h1v4h-1zM699 422h1v4h-1zM700 426h1v3h-1zM701 429h1v3h-1zM702 432h1v2h-1zM703 434h1v3h-1zM704 437h1v3h-1zM705 440h1v3h-1zM706 443h1v3h-1zM707 446h1v3h-1zM708 449h1v4h-1zM709 453h1v3h-1zM710 456h1v3h-1zM711 459h1v3h-1zM712 462h1v4h-1zM713 466h1v3h-1zM714 469h1v2h-1zM715 471h1v2h-1zM716 473h1v2h-1zM717 475h1v2h-1zM718 477h1v2h-1zM719 479h1v2h-1zM720 481h1v2h-1zM721 483h1v2h-1zM722 485h1v2h-1zM723 487h1v2h-1zM724 489h1v2h-1zM725 491h1v2h-1zM726 493h1v2h-1zM727 495h1v1h-1zM728 496h1v1h-1zM729 497h1v1h-1zM730 498h1v1h-1zM731 499h1v1h-1zM732 500h1v1h-1zM733 501h1v1h-1zM734 502h1v1h-1zM735 503h1v1h-1zM769 506h1v2h-1zM770 508h1v2h-1zM771 510h1v1h-1zM772 511h1v2h-1zM773 513h1v2h-1zM774 515h1v1h-1zM775 516h1v2h-1zM776 518h1v2h-1zM777 520h1v2h-1zM778 522h1v2h-1zM779 524h1v2h-1zM780 526h1v2h-1zM781 528h1v2h-1zM782 530h1v3h-1zM783 533h1v2h-1zM784 535h1v2h-1zM785 537h1v2h-1zM786 539h1v2h-1zM787 541h1v3h-1zM788 544h1v2h-1zM789 546h1v2h-1zM790 548h1v2h-1zM791 550h1v2h-1zM792 552h1v2h-1zM809 560h1v1h-1zM812 558h1v1h-1zM813 557h1v1h-1zM816 555h1v1h-1zM817 554h1v1h-1zM818 552h1v2h-1zM819 550h1v2h-1zM820 548h1v2h-1zM821 546h1v2h-1zM822 544h1v2h-1zM823 542h1v2h-1zM824 541h1v1h-1zM825 539h1v2h-1zM826 537h1v2h-1zM827 536h1v1h-1zM828 534h1v2h-1zM829 533h1v1h-1zM830 531h1v2h-1zM831 529h1v2h-1zM832 528h1v1h-1zM936 523h1v1h-1zM937 520h1v3h-1zM938 517h1v3h-1zM939 514h1v3h-1zM940 511h1v3h-1zM941 508h1v3h-1zM942 505h1v3h-1zM943 502h1v3h-1zM944 500h1v2h-1zM945 498h1v2h-1zM946 496h1v2h-1zM947 494h1v2h-1zM948 492h1v2h-1zM949 490h1v2h-1zM950 488h1v2h-1zM951 487h1v1h-1zM952 486h1v1h-1zM953 485h1v1h-1zM956 483h1v1h-1zM957 482h1v1h-1zM958 481h1v1h-1zM959 480h1v1h-1zM960 479h1v1h-1zM963 477h1v1h-1zM964 476h1v1h-1zM965 475h1v1h-1zM966 474h1v1h-1zM967 472h1v2h-1zM968 471h1v1h-1zM969 469h1v2h-1zM970 468h1v1h-1zM971 467h1v1h-1zM972 465h1v2h-1zM973 464h1v1h-1zM974 462h1v2h-1zM975 461h1v1h-1zM976 460h1v1h-1zM977 458h1v2h-1zM978 457h1v1h-1zM979 456h1v1h-1zM980 454h1v2h-1zM981 453h1v1h-1zM982 452h1v1h-1zM983 450h1v2h-1zM984 449h1v1h-1zM987 447h1v1h-1zM988 446h1v1h-1zM1105 438h1v1h-1zM1106 439h1v1h-1zM1107 440h1v1h-1zM1110 442h1v1h-1zM1111 443h1v1h-1zM1112 444h1v1h-1zM1115 446h1v1h-1zM1153 447h1v2h-1zM1154 446h1v1h-1zM1155 445h1v1h-1zM1156 443h1v2h-1zM1157 442h1v1h-1zM1158 441h1v1h-1zM1159 439h1v2h-1zM1160 438h1v1h-1zM1161 436h1v2h-1zM1162 435h1v1h-1zM1163 433h1v2h-1zM1164 432h1v1h-1zM1165 430h1v2h-1zM1166 429h1v1h-1zM1167 427h1v2h-1zM1168 426h1v1h-1zM1169 424h1v2h-1zM1170 423h1v1h-1zM1171 422h1v1h-1zM1172 420h1v2h-1zM1173 419h1v1h-1zM1174 418h1v1h-1zM1175 416h1v2h-1zM1176 415h1v1h-1zM1177 414h1v1h-1zM1178 412h1v2h-1zM1179 411h1v1h-1zM1180 410h1v1h-1zM1181 408h1v2h-1zM1182 407h1v1h-1zM1183 406h1v1h-1zM1184 405h1v1h-1zM1185 404h1v1h-1zM1186 402h1v2h-1zM1187 401h1v1h-1zM1188 400h1v1h-1zM1189 398h1v2h-1zM1190 396h1v2h-1zM1191 394h1v2h-1zM1192 392h1v2h-1zM1193 390h1v2h-1zM1194 388h1v2h-1zM1195 386h1v2h-1zM1196 384h1v2h-1zM1197 382h1v2h-1zM1198 380h1v2h-1zM1199 378h1v2h-1zM1200 376h1v2h-1zM1201 374h1v2h-1zM1202 372h1v2h-1zM1203 369h1v3h-1zM1204 367h1v2h-1zM1205 364h1v3h-1zM1206 362h1v2h-1zM1207 359h1v3h-1zM1208 357h1v2h-1zM1209 354h1v3h-1zM1210 351h1v3h-1zM1211 349h1v2h-1zM1212 347h1v2h-1zM1213 345h1v2h-1zM1214 344h1v1h-1zM1215 342h1v2h-1zM1216 341h1v1h-1zM1217 339h1v2h-1zM1218 338h1v1h-1zM1219 336h1v2h-1zM1220 335h1v1h-1zM1221 334h1v1h-1zM1222 333h1v1h-1zM1223 331h1v2h-1zM1224 330h1v1h-1zM1225 329h1v1h-1zM1228 327h1v1h-1zM1229 326h1v1h-1zM1232 324h1v1h-1zM1233 323h1v1h-1zM1236 321h1v1h-1zM1237 320h1v1h-1zM1238 319h1v1h-1zM1239 318h1v1h-1zM1242 316h1v1h-1zM1243 315h1v1h-1zM1244 314h1v1h-1zM1245 313h1v1h-1zM1246 312h1v1h-1zM1247 311h1v1h-1zM1248 310h1v1h-1zM1249 309h1v1h-1zM1250 308h1v1h-1zM1251 307h1v1h-1zM1252 306h1v1h-1zM1253 305h1v1h-1zM1254 304h1v1h-1zM1255 303h1v1h-1zM1256 302h1v1h-1zM1257 301h1v1h-1zM1258 300h1v1h-1zM1259 299h1v1h-1zM1260 298h1v1h-1zM1261 297h1v1h-1zM1262 296h1v1h-1zM1263 295h1v1h-1zM1264 294h1v1h-1zM1304 293h1v2h-1zM1305 295h1v1h-1zM1306 296h1v2h-1zM1307 298h1v2h-1zM1308 300h1v2h-1zM1309 302h1v3h-1zM1310 305h1v2h-1zM1311 307h1v2h-1zM1312 309h1v2h-1zM1313 311h1v2h-1zM1314 313h1v1h-1zM1315 314h1v2h-1zM1316 316h1v1h-1zM1317 317h1v1h-1zM1318 318h1v1h-1zM1319 319h1v2h-1zM1320 321h1v1h-1zM1321 322h1v1h-1zM1322 323h1v1h-1zM1323 324h1v1h-1zM1324 325h1v1h-1zM1325 326h1v1h-1zM1326 327h1v1h-1zM1327 328h1v1h-1zM1328 329h1v1h-1zM1329 330h1v2h-1zM1330 332h1v2h-1zM1331 334h1v2h-1zM1332 336h1v2h-1zM1333 338h1v1h-1zM1334 339h1v1h-1zM1335 340h1v1h-1zM1336 341h1v2h-1zM1337 343h1v1h-1zM1338 344h1v1h-1zM1339 345h1v1h-1zM1340 346h1v1h-1zM1341 347h1v1h-1zM1342 348h1v2h-1zM1343 350h1v1h-1zM1344 351h1v1h-1z" fill="#34ae6a"/>
</g>
<g shape-rendering="crispEdges">
<rect x="24" y="98" width="1" height="22" fill="#000"/>
<rect x="22" y="100" width="5" height="18" fill="#000"/>
<rect x="32" y="100" width="1" height="27" fill="#000"/>
<rect x="30" y="118" width="5" height="5" fill="#000"/>
<rect x="40" y="112" width="1" height="12" fill="#000"/>
<rect x="38" y="116" width="5" height="6" fill="#000"/>
<rect x="39" y="117" width="3" height="4" fill="#fff"/>
<rect x="48" y="99" width="1" height="17" fill="#000"/>
<rect x="46" y="100" width="5" height="15" fill="#000"/>
<rect x="47" y="101" width="3" height="13" fill="#fff"/>
<rect x="56" y="95" width="1" height="22" fill="#000"/>
<rect x="54" y="100" width="5" height="1" fill="#000"/>
<rect x="72" y="98" width="1" height="14" fill="#000"/>
<rect x="70" y="100" width="5" height="8" fill="#000"/>
<rect x="80" y="98" width="1" height="10" fill="#000"/>
<rect x="78" y="100" width="5" height="8" fill="#000"/>
<rect x="79" y="101" width="3" height="6" fill="#fff"/>
<rect x="104" y="97" width="1" height="40" fill="#000"/>
<rect x="102" y="98" width="5" height="36" fill="#000"/>
<rect x="112" y="100" width="1" height="33" fill="#000"/>
<rect x="110" y="116" width="5" height="17" fill="#000"/>
<rect x="111" y="117" width="3" height="15" fill="#fff"/>
<rect x="120" y="100" width="1" height="24" fill="#000"/>
<rect x="118" y="114" width="5" height="3" fill="#000"/>
<rect x="119" y="115" width="3" height="1" fill="#fff"/>
<rect x="128" y="99" width="1" height="18" fill="#000"/>
<rect x="126" y="100" width="5" height="16" fill="#000"/>
<rect x="127" y="101" width="3" height="14" fill="#fff"/>
<rect x="144" y="99" width="1" height="13" fill="#000"/>
<rect x="142" y="100" width="5" height="9" fill="#000"/>
<rect x="152" y="99" width="1" height="16" fill="#000"/>
<rect x="150" y="100" width="5" height="9" fill="#000"/>
<rect x="151" y="101" width="3" height="7" fill="#fff"/>
<rect x="160" y="99" width="1" height="13" fill="#000"/>
<rect x="158" y="100" width="5" height="12" fill="#000"/>
<rect x="168" y="100" width="1" height="25" fill="#000"/>
<rect x="166" y="112" width="5" height="6" fill="#000"/>
<rect x="176" y="112" width="1" height="18" fill="#000"/>
<rect x="174" y="118" width="5" height="2" fill="#000"/>
<rect x="184" y="110" width="1" height="20" fill="#000"/>
<rect x="182" y="119" width="5" height="11" fill="#000"/>
<rect x="192" y="117" width="1" height="12" fill="#000"/>
<rect x="190" y="117" width="5" height="10" fill="#000"/>
<rect x="191" y="118" width="3" height="8" fill="#fff"/>
<rect x="200" y="111" width="1" height="65" fill="#000"/>
<rect x="198" y="117" width="5" height="53" fill="#000"/>
<rect x="208" y="155" width="1" height="44" fill="#000"/>
<rect x="206" y="170" width="5" height="26" fill="#000"/>
<rect x="216" y="189" width="1" height="48" fill="#000"/>
<rect x="214" y="195" width="5" height="9" fill="#000"/>
<rect x="224" y="199" width="1" height="47" fill="#000"/>
<rect x="222" y="203" width="5" height="36" fill="#000"/>
<rect x="232" y="206" width="1" height="40" fill="#000"/>
<rect x="230" y="210" width="5" height="29" fill="#000"/>
<rect x="231" y="211" width="3" height="27" fill="#fff"/>
<rect x="240" y="178" width="1" height="36" fill="#000"/>
<rect x="238" y="180" width="5" height="24" fill="#000"/>
<rect x="239" y="181" width="3" height="22" fill="#fff"/>
<rect x="248" y="157" width="1" height="39" fill="#000"/>
<rect x="246" y="176" width="5" height="13" fill="#000"/>
<rect x="247" y="177" width="3" height="11" fill="#fff"/>
<rect x="256" y="137" width="1" height="56" fill="#000"/>
<rect x="254" y="140" width="5" height="35" fill="#000"/>
<rect x="255" y="141" width="3" height="33" fill="#fff"/>
<rect x="264" y="140" width="1" height="37" fill="#000"/>
<rect x="262" y="140" width="5" height="34" fill="#000"/>
<rect x="272" y="147" width="1" height="31" fill="#000"/>
<rect x="270" y="157" width="5" height="17" fill="#000"/>
<rect x="271" y="158" width="3" height="15" fill="#fff"/>
<rect x="280" y="153" width="1" height="28" fill="#000"/>
<rect x="278" y="157" width="5" height="23" fill="#000"/>
<rect x="288" y="180" width="1" height="17" fill="#000"/>
<rect x="286" y="186" width="5" height="10" fill="#000"/>
<rect x="296" y="183" width="1" height="42" fill="#000"/>
<rect x="294" y="197" width="5" height="17" fill="#000"/>
<rect x="304" y="183" width="1" height="37" fill="#000"/>
<rect x="302" y="190" width="5" height="23" fill="#000"/>
<rect x="303" y="191" width="3" height="21" fill="#fff"/>
<rect x="312" y="172" width="1" height="21" fill="#000"/>
<rect x="310" y="174" width="5" height="15" fill="#000"/>
<rect x="311" y="175" width="3" height="13" fill="#fff"/>
<rect x="320" y="154" width="1" height="30" fill="#000"/>
<rect x="318" y="170" width="5" height="3" fill="#000"/>
<rect x="319" y="171" width="3" height="1" fill="#fff"/>
<rect x="328" y="157" width="1" height="19" fill="#000"/>
<rect x="326" y="171" width="5" height="1" fill="#000"/>
<rect x="336" y="155" width="1" height="13" fill="#000"/>
<rect x="334" y="157" width="5" height="3" fill="#000"/>
<rect x="335" y="158" width="3" height="1" fill="#fff"/>
<rect x="344" y="134" width="1" height="24" fill="#000"/>
<rect x="342" y="149" width="5" height="5" fill="#000"/>
<rect x="343" y="150" width="3" height="3" fill="#fff"/>
<rect x="352" y="123" width="1" height="37" fill="#000"/>
<rect x="350" y="149" width="5" height="5" fill="#000"/>
<rect x="360" y="127" width="1" height="31" fill="#000"/>
<rect x="358" y="128" width="5" height="28" fill="#000"/>
<rect x="359" y="129" width="3" height="26" fill="#fff"/>
<rect x="368" y="123" width="1" height="13" fill="#000"/>
<rect x="366" y="129" width="5" height="1" fill="#000"/>
<rect x="376" y="121" width="1" height="10" fill="#000"/>
<rect x="374" y="124" width="5" height="6" fill="#000"/>
<rect x="375" y="125" width="3" height="4" fill="#fff"/>
<rect x="384" y="116" width="1" height="18" fill="#000"/>
<rect x="382" y="121" width="5" height="12" fill="#000"/>
<rect x="392" y="126" width="1" height="22" fill="#000"/>
<rect x="390" y="130" width="5" height="3" fill="#000"/>
<rect x="391" y="131" width="3" height="1" fill="#fff"/>
<rect x="400" y="116" width="1" height="36" fill="#000"/>
<rect x="398" y="131" width="5" height="15" fill="#000"/>
<rect x="408" y="134" width="1" height="24" fill="#000"/>
<rect x="406" y="145" width="5" height="1" fill="#000"/>
<rect x="416" y="133" width="1" height="13" fill="#000"/>
<rect x="414" y="133" width="5" height="11" fill="#000"/>
<rect x="415" y="134" width="3" height="9" fill="#fff"/>
<rect x="424" y="128" width="1" height="8" fill="#000"/>
<rect x="422" y="133" width="5" height="1" fill="#000"/>
<rect x="432" y="127" width="1" height="8" fill="#000"/>
<rect x="430" y="127" width="5" height="3" fill="#000"/>
<rect x="431" y="128" width="3" height="1" fill="#fff"/>
<rect x="440" y="107" width="1" height="25" fill="#000"/>
<rect x="438" y="127" width="5" height="2" fill="#000"/>
<rect x="448" y="123" width="1" height="16" fill="#000"/>
<rect x="446" y="127" width="5" height="10" fill="#000"/>
<rect x="456" y="132" width="1" height="14" fill="#000"/>
<rect x="454" y="136" width="5" height="1" fill="#000"/>
<rect x="464" y="131" width="1" height="12" fill="#000"/>
<rect x="462" y="135" width="5" height="1" fill="#000"/>
<rect x="472" y="130" width="1" height="7" fill="#000"/>
<rect x="470" y="132" width="5" height="4" fill="#000"/>
<rect x="471" y="133" width="3" height="2" fill="#fff"/>
<rect x="480" y="130" width="1" height="12" fill="#000"/>
<rect x="478" y="134" width="5" height="8" fill="#000"/>
<rect x="488" y="136" width="1" height="28" fill="#000"/>
<rect x="486" y="140" width="5" height="8" fill="#000"/>
<rect x="496" y="136" width="1" height="47" fill="#000"/>
<rect x="494" y="147" width="5" height="19" fill="#000"/>
<rect x="504" y="159" width="1" height="50" fill="#000"/>
<rect x="502" y="166" width="5" height="38" fill="#000"/>
<rect x="512" y="193" width="1" height="24" fill="#000"/>
<rect x="510" y="195" width="5" height="9" fill="#000"/>
<rect x="511" y="196" width="3" height="7" fill="#fff"/>
<rect x="520" y="189" width="1" height="24" fill="#000"/>
<rect x="518" y="194" width="5" height="13" fill="#000"/>
<rect x="528" y="198" width="1" height="16" fill="#000"/>
<rect x="526" y="198" width="5" height="4" fill="#000"/>
<rect x="536" y="185" width="1" height="45" fill="#000"/>
<rect x="534" y="203" width="5" height="22" fill="#000"/>
<rect x="544" y="161" width="1" height="74" fill="#000"/>
<rect x="542" y="167" width="5" height="58" fill="#000"/>
<rect x="543" y="168" width="3" height="56" fill="#fff"/>
<rect x="552" y="164" width="1" height="32" fill="#000"/>
<rect x="550" y="167" width="5" height="1" fill="#000"/>
<rect x="560" y="164" width="1" height="22" fill="#000"/>
<rect x="558" y="166" width="5" height="4" fill="#000"/>
<rect x="568" y="168" width="1" height="21" fill="#000"/>
<rect x="566" y="170" width="5" height="10" fill="#000"/>
<rect x="576" y="171" width="1" height="27" fill="#000"/>
<rect x="574" y="171" width="5" height="25" fill="#000"/>
<rect x="584" y="196" width="1" height="42" fill="#000"/>
<rect x="582" y="196" width="5" height="12" fill="#000"/>
<rect x="592" y="176" width="1" height="39" fill="#000"/>
<rect x="590" y="203" width="5" height="5" fill="#000"/>
<rect x="591" y="204" width="3" height="3" fill="#fff"/>
<rect x="600" y="196" width="1" height="21" fill="#000"/>
<rect x="598" y="202" width="5" height="14" fill="#000"/>
<rect x="608" y="210" width="1" height="34" fill="#000"/>
<rect x="606" y="216" width="5" height="1" fill="#000"/>
<rect x="616" y="212" width="1" height="29" fill="#000"/>
<rect x="614" y="217" width="5" height="19" fill="#000"/>
<rect x="624" y="228" width="1" height="24" fill="#000"/>
<rect x="622" y="228" width="5" height="16" fill="#000"/>
<rect x="632" y="223" width="1" height="103" fill="#000"/>
<rect x="630" y="244" width="5" height="80" fill="#000"/>
<rect x="640" y="296" width="1" height="31" fill="#000"/>
<rect x="638" y="307" width="5" height="16" fill="#000"/>
<rect x="639" y="308" width="3" height="14" fill="#fff"/>
<rect x="648" y="278" width="1" height="46" fill="#000"/>
<rect x="646" y="307" width="5" height="12" fill="#000"/>
<rect x="656" y="272" width="1" height="47" fill="#000"/>
<rect x="654" y="272" width="5" height="47" fill="#000"/>
<rect x="655" y="273" width="3" height="45" fill="#fff"/>
<rect x="664" y="261" width="1" height="15" fill="#000"/>
<rect x="662" y="269" width="5" height="3" fill="#000"/>
<rect x="663" y="270" width="3" height="1" fill="#fff"/>
<rect x="672" y="253" width="1" height="19" fill="#000"/>
<rect x="670" y="259" width="5" height="12" fill="#000"/>
<rect x="680" y="271" width="1" height="99" fill="#000"/>
<rect x="678" y="272" width="5" height="98" fill="#000"/>
<rect x="688" y="345" width="1" height="61" fill="#000"/>
<rect x="686" y="370" width="5" height="1" fill="#000"/>
<rect x="696" y="367" width="1" height="105" fill="#000"/>
<rect x="694" y="369" width="5" height="95" fill="#000"/>
<rect x="704" y="439" width="1" height="33" fill="#000"/>
<rect x="702" y="449" width="5" height="15" fill="#000"/>
<rect x="703" y="450" width="3" height="13" fill="#fff"/>
<rect x="712" y="433" width="1" height="21" fill="#000"/>
<rect x="710" y="442" width="5" height="8" fill="#000"/>
<rect x="711" y="443" width="3" height="6" fill="#fff"/>
<rect x="720" y="428" width="1" height="22" fill="#000"/>
<rect x="718" y="434" width="5" height="7" fill="#000"/>
<rect x="728" y="423" width="1" height="77" fill="#000"/>
<rect x="726" y="432" width="5" height="12" fill="#000"/>
<rect x="727" y="433" width="3" height="10" fill="#fff"/>
<rect x="736" y="409" width="1" height="59" fill="#000"/>
<rect x="734" y="422" width="5" height="10" fill="#000"/>
<rect x="735" y="423" width="3" height="8" fill="#fff"/>
<rect x="744" y="388" width="1" height="39" fill="#000"/>
<rect x="742" y="392" width="5" height="30" fill="#000"/>
<rect x="743" y="393" width="3" height="28" fill="#fff"/>
<rect x="752" y="382" width="1" height="17" fill="#000"/>
<rect x="750" y="384" width="5" height="8" fill="#000"/>
<rect x="751" y="385" width="3" height="6" fill="#fff"/>
<rect x="760" y="381" width="1" height="18" fill="#000"/>
<rect x="758" y="382" width="5" height="16" fill="#000"/>
<rect x="768" y="397" width="1" height="26" fill="#000"/>
<rect x="766" y="399" width="5" height="18" fill="#000"/>
<rect x="776" y="393" width="1" height="145" fill="#000"/>
<rect x="774" y="417" width="5" height="79" fill="#000"/>
<rect x="784" y="471" width="1" height="94" fill="#000"/>
<rect x="782" y="496" width="5" height="50" fill="#000"/>
<rect x="792" y="504" width="1" height="50" fill="#000"/>
<rect x="790" y="504" width="5" height="42" fill="#000"/>
<rect x="791" y="505" width="3" height="40" fill="#fff"/>
<rect x="800" y="455" width="1" height="62" fill="#000"/>
<rect x="798" y="462" width="5" height="42" fill="#000"/>
<rect x="799" y="463" width="3" height="40" fill="#fff"/>
<rect x="808" y="455" width="1" height="14" fill="#000"/>
<rect x="806" y="463" width="5" height="3" fill="#000"/>
<rect x="816" y="457" width="1" height="25" fill="#000"/>
<rect x="814" y="464" width="5" height="1" fill="#000"/>
<rect x="824" y="415" width="1" height="62" fill="#000"/>
<rect x="822" y="453" width="5" height="13" fill="#000"/>
<rect x="823" y="454" width="3" height="11" fill="#fff"/>
<rect x="832" y="430" width="1" height="44" fill="#000"/>
<rect x="830" y="435" width="5" height="18" fill="#000"/>
<rect x="831" y="436" width="3" height="16" fill="#fff"/>
<rect x="840" y="410" width="1" height="30" fill="#000"/>
<rect x="838" y="414" width="5" height="21" fill="#000"/>
<rect x="839" y="415" width="3" height="19" fill="#fff"/>
<rect x="848" y="399" width="1" height="20" fill="#000"/>
<rect x="846" y="414" width="5" height="2" fill="#000"/>
<rect x="856" y="402" width="1" height="14" fill="#000"/>
<rect x="854" y="412" width="5" height="4" fill="#000"/>
<rect x="855" y="413" width="3" height="2" fill="#fff"/>
<rect x="864" y="401" width="1" height="23" fill="#000"/>
<rect x="862" y="404" width="5" height="8" fill="#000"/>
<rect x="863" y="405" width="3" height="6" fill="#fff"/>
<rect x="872" y="376" width="1" height="42" fill="#000"/>
<rect x="870" y="396" width="5" height="9" fill="#000"/>
<rect x="871" y="397" width="3" height="7" fill="#fff"/>
<rect x="880" y="393" width="1" height="29" fill="#000"/>
<rect x="878" y="395" width="5" height="10" fill="#000"/>
<rect x="888" y="395" width="1" height="24" fill="#000"/>
<rect x="886" y="403" width="5" height="3" fill="#000"/>
<rect x="887" y="404" width="3" height="1" fill="#fff"/>
<rect x="896" y="400" width="1" height="15" fill="#000"/>
<rect x="894" y="402" width="5" height="6" fill="#000"/>
<rect x="904" y="404" width="1" height="14" fill="#000"/>
<rect x="902" y="408" width="5" height="5" fill="#000"/>
<rect x="912" y="405" width="1" height="22" fill="#000"/>
<rect x="910" y="409" width="5" height="17" fill="#000"/>
<rect x="920" y="338" width="1" height="99" fill="#000"/>
<rect x="918" y="354" width="5" height="71" fill="#000"/>
<rect x="919" y="355" width="3" height="69" fill="#fff"/>
<rect x="928" y="342" width="1" height="19" fill="#000"/>
<rect x="926" y="351" width="5" height="3" fill="#000"/>
<rect x="927" y="352" width="3" height="1" fill="#fff"/>
<rect x="936" y="311" width="1" height="43" fill="#000"/>
<rect x="934" y="316" width="5" height="36" fill="#000"/>
<rect x="935" y="317" width="3" height="34" fill="#fff"/>
<rect x="944" y="314" width="1" height="34" fill="#000"/>
<rect x="942" y="315" width="5" height="28" fill="#000"/>
<rect x="952" y="338" width="1" height="20" fill="#000"/>
<rect x="950" y="342" width="5" height="15" fill="#000"/>
<rect x="960" y="357" width="1" height="15" fill="#000"/>
<rect x="958" y="359" width="5" height="3" fill="#000"/>
<rect x="959" y="360" width="3" height="1" fill="#fff"/>
<rect x="968" y="355" width="1" height="45" fill="#000"/>
<rect x="966" y="358" width="5" height="34" fill="#000"/>
<rect x="976" y="380" width="1" height="47" fill="#000"/>
<rect x="974" y="387" width="5" height="5" fill="#000"/>
<rect x="975" y="388" width="3" height="3" fill="#fff"/>
<rect x="984" y="370" width="1" height="26" fill="#000"/>
<rect x="982" y="386" width="5" height="1" fill="#000"/>
<rect x="992" y="371" width="1" height="17" fill="#000"/>
<rect x="990" y="382" width="5" height="4" fill="#000"/>
<rect x="991" y="383" width="3" height="2" fill="#fff"/>
<rect x="1000" y="381" width="1" height="29" fill="#000"/>
<rect x="998" y="381" width="5" height="28" fill="#000"/>
<rect x="1008" y="400" width="1" height="18" fill="#000"/>
<rect x="1006" y="405" width="5" height="9" fill="#000"/>
<rect x="1016" y="368" width="1" height="56" fill="#000"/>
<rect x="1014" y="398" width="5" height="16" fill="#000"/>
<rect x="1015" y="399" width="3" height="14" fill="#fff"/>
<rect x="1024" y="380" width="1" height="35" fill="#000"/>
<rect x="1022" y="386" width="5" height="10" fill="#000"/>
<rect x="1023" y="387" width="3" height="8" fill="#fff"/>
<rect x="1032" y="382" width="1" height="30" fill="#000"/>
<rect x="1030" y="385" width="5" height="16" fill="#000"/>
<rect x="1040" y="384" width="1" height="19" fill="#000"/>
<rect x="1038" y="400" width="5" height="3" fill="#000"/>
<rect x="1039" y="401" width="3" height="1" fill="#fff"/>
<rect x="1048" y="390" width="1" height="12" fill="#000"/>
<rect x="1046" y="394" width="5" height="6" fill="#000"/>
<rect x="1047" y="395" width="3" height="4" fill="#fff"/>
<rect x="1056" y="371" width="1" height="19" fill="#000"/>
<rect x="1054" y="382" width="5" height="3" fill="#000"/>
<rect x="1055" y="383" width="3" height="1" fill="#fff"/>
<rect x="1064" y="339" width="1" height="50" fill="#000"/>
<rect x="1062" y="345" width="5" height="37" fill="#000"/>
<rect x="1063" y="346" width="3" height="35" fill="#fff"/>
<rect x="1072" y="322" width="1" height="34" fill="#000"/>
<rect x="1070" y="328" width="5" height="18" fill="#000"/>
<rect x="1071" y="329" width="3" height="16" fill="#fff"/>
<rect x="1080" y="318" width="1" height="14" fill="#000"/>
<rect x="1078" y="321" width="5" height="7" fill="#000"/>
<rect x="1079" y="322" width="3" height="5" fill="#fff"/>
<rect x="1088" y="319" width="1" height="9" fill="#000"/>
<rect x="1086" y="321" width="5" height="1" fill="#000"/>
<rect x="1096" y="304" width="1" height="21" fill="#000"/>
<rect x="1094" y="308" width="5" height="12" fill="#000"/>
<rect x="1095" y="309" width="3" height="10" fill="#fff"/>
<rect x="1104" y="294" width="1" height="19" fill="#000"/>
<rect x="1102" y="298" width="5" height="15" fill="#000"/>
<rect x="1103" y="299" width="3" height="13" fill="#fff"/>
<rect x="1112" y="282" width="1" height="37" fill="#000"/>
<rect x="1110" y="282" width="5" height="20" fill="#000"/>
<rect x="1111" y="283" width="3" height="18" fill="#fff"/>
<rect x="1120" y="256" width="1" height="36" fill="#000"/>
<rect x="1118" y="263" width="5" height="19" fill="#000"/>
<rect x="1119" y="264" width="3" height="17" fill="#fff"/>
<rect x="1128" y="244" width="1" height="26" fill="#000"/>
<rect x="1126" y="262" width="5" height="2" fill="#000"/>
<rect x="1136" y="248" width="1" height="14" fill="#000"/>
<rect x="1134" y="254" width="5" height="8" fill="#000"/>
<rect x="1135" y="255" width="3" height="6" fill="#fff"/>
<rect x="1144" y="252" width="1" height="8" fill="#000"/>
<rect x="1142" y="255" width="5" height="1" fill="#000"/>
<rect x="1152" y="255" width="1" height="12" fill="#000"/>
<rect x="1150" y="256" width="5" height="10" fill="#000"/>
<rect x="1160" y="259" width="1" height="33" fill="#000"/>
<rect x="1158" y="265" width="5" height="17" fill="#000"/>
<rect x="1168" y="274" width="1" height="27" fill="#000"/>
<rect x="1166" y="280" width="5" height="11" fill="#000"/>
<rect x="1176" y="278" width="1" height="23" fill="#000"/>
<rect x="1174" y="280" width="5" height="10" fill="#000"/>
<rect x="1175" y="281" width="3" height="8" fill="#fff"/>
<rect x="1184" y="268" width="1" height="15" fill="#000"/>
<rect x="1182" y="270" width="5" height="12" fill="#000"/>
<rect x="1183" y="271" width="3" height="10" fill="#fff"/>
<rect x="1192" y="265" width="1" height="7" fill="#000"/>
<rect x="1190" y="270" width="5" height="1" fill="#000"/>
<rect x="1200" y="263" width="1" height="14" fill="#000"/>
<rect x="1198" y="266" width="5" height="10" fill="#000"/>
<rect x="1199" y="267" width="3" height="8" fill="#fff"/>
<rect x="1208" y="241" width="1" height="30" fill="#000"/>
<rect x="1206" y="244" width="5" height="24" fill="#000"/>
<rect x="1207" y="245" width="3" height="22" fill="#fff"/>
<rect x="1216" y="235" width="1" height="22" fill="#000"/>
<rect x="1214" y="237" width="5" height="9" fill="#000"/>
<rect x="1215" y="238" width="3" height="7" fill="#fff"/>
<rect x="1224" y="230" width="1" height="16" fill="#000"/>
<rect x="1222" y="232" width="5" height="5" fill="#000"/>
<rect x="1223" y="233" width="3" height="3" fill="#fff"/>
<rect x="1232" y="223" width="1" height="11" fill="#000"/>
<rect x="1230" y="230" width="5" height="1" fill="#000"/>
<rect x="1240" y="223" width="1" height="11" fill="#000"/>
<rect x="1238" y="227" width="5" height="4" fill="#000"/>
<rect x="1239" y="228" width="3" height="2" fill="#fff"/>
<rect x="1248" y="216" width="1" height="16" fill="#000"/>
<rect x="1246" y="223" width="5" height="9" fill="#000"/>
<rect x="1247" y="224" width="3" height="7" fill="#fff"/>
<rect x="1256" y="211" width="1" height="41" fill="#000"/>
<rect x="1254" y="223" width="5" height="14" fill="#000"/>
<rect x="1264" y="233" width="1" height="19" fill="#000"/>
<rect x="1262" y="235" width="5" height="3" fill="#000"/>
<rect x="1272" y="231" width="1" height="13" fill="#000"/>
<rect x="1270" y="232" width="5" height="5" fill="#000"/>
<rect x="1271" y="233" width="3" height="3" fill="#fff"/>
<rect x="1280" y="232" width="1" height="14" fill="#000"/>
<rect x="1278" y="232" width="5" height="6" fill="#000"/>
<rect x="1288" y="234" width="1" height="10" fill="#000"/>
<rect x="1286" y="236" width="5" height="6" fill="#000"/>
<rect x="1296" y="241" width="1" height="23" fill="#000"/>
<rect x="1294" y="243" width="5" height="21" fill="#000"/>
<rect x="1304" y="248" width="1" height="26" fill="#000"/>
<rect x="1302" y="265" width="5" height="6" fill="#000"/>
<rect x="1312" y="268" width="1" height="89" fill="#000"/>
<rect x="1310" y="271" width="5" height="71" fill="#000"/>
<rect x="1320" y="321" width="1" height="37" fill="#000"/>
<rect x="1318" y="326" width="5" height="16" fill="#000"/>
<rect x="1319" y="327" width="3" height="14" fill="#fff"/>
<rect x="1328" y="324" width="1" height="33" fill="#000"/>
<rect x="1326" y="326" width="5" height="13" fill="#000"/>
<rect x="1336" y="333" width="1" height="16" fill="#000"/>
<rect x="1334" y="339" width="5" height="8" fill="#000"/>
<rect x="1344" y="333" width="1" height="23" fill="#000"/>
<rect x="1342" y="334" width="5" height="22" fill="#000"/>
<rect x="1343" y="335" width="3" height="20" fill="#fff"/>
<rect x="1352" y="292" width="1" height="54" fill="#000"/>
<rect x="1350" y="294" width="5" height="42" fill="#000"/>
<rect x="1351" y="295" width="3" height="40" fill="#fff"/>
<rect x="1360" y="288" width="1" height="29" fill="#000"/>
<rect x="1358" y="292" width="5" height="3" fill="#000"/>
<rect x="1359" y="293" width="3" height="1" fill="#fff"/>
<rect x="1368" y="291" width="1" height="9" fill="#000"/>
<rect x="1366" y="292" width="5" height="8" fill="#000"/>
<rect x="1376" y="293" width="1" height="32" fill="#000"/>
<rect x="1374" y="300" width="5" height="16" fill="#000"/>
<rect x="1384" y="316" width="1" height="10" fill="#000"/>
<rect x="1382" y="317" width="5" height="3" fill="#000"/>
</g>
<g shape-rendering="crispEdges">
<line x1="1257.6" y1="209.6" x2="1313.6" y2="355.9" stroke="#ff0000" stroke-width="3.5"/>
<polygon points="1316.8,364.3 1308.7,356.7 1317.7,353.2" fill="#ff0000"/>
<line x1="1316.8" y1="364.3" x2="1354.4" y2="284.6" stroke="#ff0000" stroke-width="3.5"/>
<polygon points="1358.2,276.5 1358.3,287.6 1349.6,283.5" fill="#ff0000"/>
<line x1="1358.2" y1="276.5" x2="1403.4" y2="346.4" stroke="#ff0000" stroke-width="3.5"/>
<polygon points="1408.3,354.0 1398.8,348.2 1406.9,343.0" fill="#ff0000"/>
</g>
<rect x="1185.5" y="202.5" width="61" height="18" fill="#fff" stroke="#ff0000" stroke-width="1" shape-rendering="crispEdges"/>
<text x="1187" y="218" font-size="17" fill="#ff0000" textLength="59.5" lengthAdjust="spacingAndGlyphs" >29479.9</text>
<rect x="1247" y="211" width="11" height="1" fill="#ff0000" shape-rendering="crispEdges"/>
<rect x="1225.5" y="296.5" width="61" height="18" fill="#fff" stroke="#ff0000" stroke-width="1" shape-rendering="crispEdges"/>
<text x="1227" y="312" font-size="17" fill="#ff0000" textLength="59.5" lengthAdjust="spacingAndGlyphs" >28814.3</text>
<rect x="1287.5" y="303.5" width="2" height="3" fill="#fff" stroke="#ff0000" stroke-width="1" shape-rendering="crispEdges"/>
<rect x="1249.5" y="353.5" width="61" height="18" fill="#fff" stroke="#ff0000" stroke-width="1" shape-rendering="crispEdges"/>
<text x="1251" y="369" font-size="17" fill="#ff0000" textLength="59.5" lengthAdjust="spacingAndGlyphs" >28410.6</text>
<rect x="713.5" y="556.5" width="61" height="17" fill="#fff" stroke="#ff0000" stroke-width="1" shape-rendering="crispEdges"/>
<text x="715" y="572" font-size="17" fill="#ff0000" textLength="59.5" lengthAdjust="spacingAndGlyphs" >26973.1</text>
<rect x="775" y="564" width="9" height="1" fill="#ff0000" shape-rendering="crispEdges"/>
<g shape-rendering="crispEdges">
<rect x="0" y="45" width="216" height="59" fill="#fff"/>
<rect x="0" y="45" width="47" height="25" fill="url(#gSell)"/>
<rect x="162" y="45" width="52" height="25" fill="url(#gSell)"/>
<rect x="0" y="69" width="104" height="33" fill="url(#gPrice)"/>
<rect x="106" y="69" width="108" height="33" fill="url(#gPrice)"/>
<rect x="0" y="69" width="43" height="1" fill="#f4aaaa"/>
<rect x="166" y="69" width="45" height="1" fill="#f4aaaa"/>
<rect x="49.5" y="45.5" width="110" height="21" fill="#fff" stroke="#b4b4b4"/>
<rect x="50.5" y="46.5" width="19" height="19" fill="url(#gBtn)" stroke="#c8c8c8"/>
<rect x="139.5" y="46.5" width="19" height="19" fill="url(#gBtn)" stroke="#c8c8c8"/>
</g>
<polygon points="57,54.5 62,54.5 59.5,57.5" fill="#3a62c8"/>
<polygon points="146,57.5 151,57.5 148.5,54.5" fill="#3a62c8"/>
<text x="7" y="61" font-size="12" fill="#fff" textLength="26" lengthAdjust="spacingAndGlyphs" >SELL</text>
<text x="175.5" y="61" font-size="12" fill="#fff" textLength="24" lengthAdjust="spacingAndGlyphs" >BUY</text>
<text x="136" y="60" font-size="12" fill="#000" textLength="25" lengthAdjust="spacingAndGlyphs" text-anchor="end" >1.00</text>
<text x="11" y="97" font-size="12" fill="#fff" textLength="35.5" lengthAdjust="spacingAndGlyphs" font-weight="bold" >28711</text>
<text x="121" y="97" font-size="12" fill="#fff" textLength="35.5" lengthAdjust="spacingAndGlyphs" font-weight="bold" >28734</text>
<rect x="50.7" y="93.4" width="3.5" height="3.6" fill="#fff"/>
<rect x="161.9" y="93.4" width="3.5" height="3.6" fill="#fff"/>
<text x="55.6" y="97.2" font-size="34" fill="#fff" textLength="18.3" lengthAdjust="spacingAndGlyphs" >0</text>
<text x="167" y="97.2" font-size="34" fill="#fff" textLength="18.3" lengthAdjust="spacingAndGlyphs" >0</text>
<polygon points="0,35.5 1,34 2.5,35.5" fill="#000"/>
<text x="6.5" y="37.2" font-size="9.7" fill="#000" textLength="198" lengthAdjust="spacingAndGlyphs" >JPN225-,H4  28737.5 28742.5 28672.5 28712.5</text>
<polygon points="1396,26 1405.5,26 1400.7,31" fill="#c0c0c0"/>
<g shape-rendering="crispEdges">
<rect x="0" y="25" width="1652" height="1" fill="#000" />
<rect x="1651" y="25" width="1" height="902" fill="#000"/>
<rect x="0" y="578" width="1652" height="1" fill="#000" />
<rect x="0" y="580" width="1652" height="1" fill="#000" />
<rect x="0" y="750" width="1652" height="1" fill="#000" />
<rect x="0" y="752" width="1652" height="1" fill="#000" />
<rect x="0" y="926" width="1652" height="1" fill="#000" />
<rect x="1697" y="22" width="1" height="922" fill="#d4d4d4"/>
</g>
<g shape-rendering="crispEdges">
<rect x="1652" y="47" width="2" height="1" fill="#000" />
<rect x="1652" y="80" width="2" height="1" fill="#000" />
<rect x="1652" y="113" width="2" height="1" fill="#000" />
<rect x="1652" y="146" width="2" height="1" fill="#000" />
<rect x="1652" y="179" width="2" height="1" fill="#000" />
<rect x="1652" y="212" width="2" height="1" fill="#000" />
<rect x="1652" y="245" width="2" height="1" fill="#000" />
<rect x="1652" y="278" width="2" height="1" fill="#000" />
<rect x="1652" y="311" width="2" height="1" fill="#000" />
<rect x="1652" y="344" width="2" height="1" fill="#000" />
<rect x="1652" y="377" width="2" height="1" fill="#000" />
<rect x="1652" y="410" width="2" height="1" fill="#000" />
<rect x="1652" y="443" width="2" height="1" fill="#000" />
<rect x="1652" y="476" width="2" height="1" fill="#000" />
<rect x="1652" y="509" width="2" height="1" fill="#000" />
<rect x="1652" y="542" width="2" height="1" fill="#000" />
<rect x="1652" y="575" width="2" height="1" fill="#000" />
</g>
<text x="1656.5" y="51" font-size="10" fill="#000" textLength="33.8" lengthAdjust="spacingAndGlyphs" >30647.0</text>
<text x="1656.5" y="84" font-size="10" fill="#000" textLength="33.8" lengthAdjust="spacingAndGlyphs" >30409.0</text>
<text x="1656.5" y="117" font-size="10" fill="#000" textLength="33.8" lengthAdjust="spacingAndGlyphs" >30178.0</text>
<text x="1656.5" y="150" font-size="10" fill="#000" textLength="33.8" lengthAdjust="spacingAndGlyphs" >29940.0</text>
<text x="1656.5" y="183" font-size="10" fill="#000" textLength="33.8" lengthAdjust="spacingAndGlyphs" >29709.0</text>
<text x="1656.5" y="216" font-size="10" fill="#000" textLength="33.8" lengthAdjust="spacingAndGlyphs" >29471.0</text>
<text x="1656.5" y="249" font-size="10" fill="#000" textLength="33.8" lengthAdjust="spacingAndGlyphs" >29240.0</text>
<text x="1656.5" y="282" font-size="10" fill="#000" textLength="33.8" lengthAdjust="spacingAndGlyphs" >29002.0</text>
<text x="1656.5" y="315" font-size="10" fill="#000" textLength="33.8" lengthAdjust="spacingAndGlyphs" >28771.0</text>
<text x="1656.5" y="348" font-size="10" fill="#000" textLength="33.8" lengthAdjust="spacingAndGlyphs" >28540.0</text>
<text x="1656.5" y="381" font-size="10" fill="#000" textLength="33.8" lengthAdjust="spacingAndGlyphs" >28302.0</text>
<text x="1656.5" y="414" font-size="10" fill="#000" textLength="33.8" lengthAdjust="spacingAndGlyphs" >28071.0</text>
<text x="1656.5" y="447" font-size="10" fill="#000" textLength="33.8" lengthAdjust="spacingAndGlyphs" >27833.0</text>
<text x="1656.5" y="480" font-size="10" fill="#000" textLength="33.8" lengthAdjust="spacingAndGlyphs" >27602.0</text>
<text x="1656.5" y="513" font-size="10" fill="#000" textLength="33.8" lengthAdjust="spacingAndGlyphs" >27364.0</text>
<text x="1656.5" y="546" font-size="10" fill="#000" textLength="33.8" lengthAdjust="spacingAndGlyphs" >27133.0</text>
<text x="1656.5" y="579" font-size="10" fill="#000" textLength="33.8" lengthAdjust="spacingAndGlyphs" >26902.0</text>
<rect x="1653" y="258" width="41" height="11" fill="#ff0000" shape-rendering="crispEdges"/>
<text x="1657.3" y="267" font-size="10" fill="#fff" textLength="33.5" lengthAdjust="spacingAndGlyphs" >29104.6</text>
<rect x="1646.5" y="262.5" width="4" height="4" fill="#fff" stroke="#ff0000" shape-rendering="crispEdges"/>
<rect x="1653" y="276" width="41" height="11" fill="#ff0000" shape-rendering="crispEdges"/>
<text x="1657.3" y="285" font-size="10" fill="#fff" textLength="33.5" lengthAdjust="spacingAndGlyphs" >28977.1</text>
<rect x="1646.5" y="280.5" width="4" height="4" fill="#fff" stroke="#ff0000" shape-rendering="crispEdges"/>
<rect x="1653" y="299" width="41" height="11" fill="#32cd32" shape-rendering="crispEdges"/>
<text x="1657.3" y="308" font-size="10" fill="#fff" textLength="33.5" lengthAdjust="spacingAndGlyphs" >28814.3</text>
<rect x="1646.5" y="303.5" width="4" height="4" fill="#fff" stroke="#32cd32" shape-rendering="crispEdges"/>
<rect x="1653" y="314" width="41" height="11" fill="#000000" shape-rendering="crispEdges"/>
<text x="1657.3" y="323" font-size="10" fill="#fff" textLength="33.5" lengthAdjust="spacingAndGlyphs" >28712.5</text>
<rect x="1653" y="334" width="41" height="11" fill="#0000ff" shape-rendering="crispEdges"/>
<text x="1657.3" y="343" font-size="10" fill="#fff" textLength="33.5" lengthAdjust="spacingAndGlyphs" >28566.4</text>
<rect x="1646.5" y="338.5" width="4" height="4" fill="#fff" stroke="#0000ff" shape-rendering="crispEdges"/>
<rect x="1653" y="359" width="41" height="11" fill="#0000ff" shape-rendering="crispEdges"/>
<text x="1657.3" y="368" font-size="10" fill="#fff" textLength="33.5" lengthAdjust="spacingAndGlyphs" >28389.4</text>
<rect x="1646.5" y="363.5" width="4" height="4" fill="#fff" stroke="#0000ff" shape-rendering="crispEdges"/>
<g shape-rendering="crispEdges">
<rect x="0" y="600" width="1" height="42" fill="#c0c0c0"/>
<rect x="8" y="598" width="1" height="44" fill="#c0c0c0"/>
<rect x="16" y="600" width="1" height="42" fill="#c0c0c0"/>
<rect x="24" y="606" width="1" height="36" fill="#c0c0c0"/>
<rect x="32" y="611" width="1" height="31" fill="#c0c0c0"/>
<rect x="40" y="614" width="1" height="28" fill="#c0c0c0"/>
<rect x="48" y="616" width="1" height="26" fill="#c0c0c0"/>
<rect x="56" y="616" width="1" height="26" fill="#c0c0c0"/>
<rect x="64" y="617" width="1" height="25" fill="#c0c0c0"/>
<rect x="72" y="620" width="1" height="22" fill="#c0c0c0"/>
<rect x="80" y="619" width="1" height="23" fill="#c0c0c0"/>
<rect x="88" y="618" width="1" height="24" fill="#c0c0c0"/>
<rect x="96" y="617" width="1" height="25" fill="#c0c0c0"/>
<rect x="104" y="624" width="1" height="18" fill="#c0c0c0"/>
<rect x="112" y="627" width="1" height="15" fill="#c0c0c0"/>
<rect x="120" y="629" width="1" height="13" fill="#c0c0c0"/>
<rect x="128" y="629" width="1" height="13" fill="#c0c0c0"/>
<rect x="136" y="630" width="1" height="12" fill="#c0c0c0"/>
<rect x="144" y="631" width="1" height="11" fill="#c0c0c0"/>
<rect x="152" y="631" width="1" height="11" fill="#c0c0c0"/>
<rect x="160" y="633" width="1" height="9" fill="#c0c0c0"/>
<rect x="168" y="635" width="1" height="7" fill="#c0c0c0"/>
<rect x="176" y="637" width="1" height="5" fill="#c0c0c0"/>
<rect x="184" y="640" width="1" height="2" fill="#c0c0c0"/>
<rect x="200" y="641" width="1" height="6" fill="#c0c0c0"/>
<rect x="208" y="641" width="1" height="15" fill="#c0c0c0"/>
<rect x="216" y="641" width="1" height="22" fill="#c0c0c0"/>
<rect x="224" y="641" width="1" height="32" fill="#c0c0c0"/>
<rect x="232" y="641" width="1" height="36" fill="#c0c0c0"/>
<rect x="240" y="641" width="1" height="35" fill="#c0c0c0"/>
<rect x="248" y="641" width="1" height="33" fill="#c0c0c0"/>
<rect x="256" y="641" width="1" height="27" fill="#c0c0c0"/>
<rect x="264" y="641" width="1" height="24" fill="#c0c0c0"/>
<rect x="272" y="641" width="1" height="23" fill="#c0c0c0"/>
<rect x="280" y="641" width="1" height="23" fill="#c0c0c0"/>
<rect x="288" y="641" width="1" height="24" fill="#c0c0c0"/>
<rect x="296" y="641" width="1" height="28" fill="#c0c0c0"/>
<rect x="304" y="641" width="1" height="27" fill="#c0c0c0"/>
<rect x="312" y="641" width="1" height="24" fill="#c0c0c0"/>
<rect x="320" y="641" width="1" height="22" fill="#c0c0c0"/>
<rect x="328" y="641" width="1" height="19" fill="#c0c0c0"/>
<rect x="336" y="641" width="1" height="15" fill="#c0c0c0"/>
<rect x="344" y="641" width="1" height="11" fill="#c0c0c0"/>
<rect x="352" y="641" width="1" height="9" fill="#c0c0c0"/>
<rect x="360" y="641" width="1" height="3" fill="#c0c0c0"/>
<rect x="376" y="637" width="1" height="5" fill="#c0c0c0"/>
<rect x="384" y="635" width="1" height="7" fill="#c0c0c0"/>
<rect x="392" y="633" width="1" height="9" fill="#c0c0c0"/>
<rect x="400" y="634" width="1" height="8" fill="#c0c0c0"/>
<rect x="408" y="634" width="1" height="8" fill="#c0c0c0"/>
<rect x="416" y="634" width="1" height="8" fill="#c0c0c0"/>
<rect x="424" y="633" width="1" height="9" fill="#c0c0c0"/>
<rect x="432" y="632" width="1" height="10" fill="#c0c0c0"/>
<rect x="440" y="631" width="1" height="11" fill="#c0c0c0"/>
<rect x="448" y="632" width="1" height="10" fill="#c0c0c0"/>
<rect x="456" y="632" width="1" height="10" fill="#c0c0c0"/>
<rect x="464" y="632" width="1" height="10" fill="#c0c0c0"/>
<rect x="472" y="633" width="1" height="9" fill="#c0c0c0"/>
<rect x="480" y="634" width="1" height="8" fill="#c0c0c0"/>
<rect x="488" y="636" width="1" height="6" fill="#c0c0c0"/>
<rect x="496" y="640" width="1" height="2" fill="#c0c0c0"/>
<rect x="504" y="641" width="1" height="5" fill="#c0c0c0"/>
<rect x="512" y="641" width="1" height="9" fill="#c0c0c0"/>
<rect x="520" y="641" width="1" height="14" fill="#c0c0c0"/>
<rect x="528" y="641" width="1" height="18" fill="#c0c0c0"/>
<rect x="536" y="641" width="1" height="23" fill="#c0c0c0"/>
<rect x="544" y="641" width="1" height="19" fill="#c0c0c0"/>
<rect x="552" y="641" width="1" height="16" fill="#c0c0c0"/>
<rect x="560" y="641" width="1" height="14" fill="#c0c0c0"/>
<rect x="568" y="641" width="1" height="15" fill="#c0c0c0"/>
<rect x="576" y="641" width="1" height="17" fill="#c0c0c0"/>
<rect x="584" y="641" width="1" height="18" fill="#c0c0c0"/>
<rect x="592" y="641" width="1" height="19" fill="#c0c0c0"/>
<rect x="600" y="641" width="1" height="21" fill="#c0c0c0"/>
<rect x="608" y="641" width="1" height="22" fill="#c0c0c0"/>
<rect x="616" y="641" width="1" height="25" fill="#c0c0c0"/>
<rect x="624" y="641" width="1" height="29" fill="#c0c0c0"/>
<rect x="632" y="641" width="1" height="41" fill="#c0c0c0"/>
<rect x="640" y="641" width="1" height="48" fill="#c0c0c0"/>
<rect x="648" y="641" width="1" height="54" fill="#c0c0c0"/>
<rect x="656" y="641" width="1" height="51" fill="#c0c0c0"/>
<rect x="664" y="641" width="1" height="50" fill="#c0c0c0"/>
<rect x="672" y="641" width="1" height="48" fill="#c0c0c0"/>
<rect x="680" y="641" width="1" height="58" fill="#c0c0c0"/>
<rect x="688" y="641" width="1" height="65" fill="#c0c0c0"/>
<rect x="696" y="641" width="1" height="81" fill="#c0c0c0"/>
<rect x="704" y="641" width="1" height="90" fill="#c0c0c0"/>
<rect x="712" y="641" width="1" height="97" fill="#c0c0c0"/>
<rect x="720" y="641" width="1" height="100" fill="#c0c0c0"/>
<rect x="728" y="641" width="1" height="101" fill="#c0c0c0"/>
<rect x="736" y="641" width="1" height="99" fill="#c0c0c0"/>
<rect x="744" y="641" width="1" height="93" fill="#c0c0c0"/>
<rect x="752" y="641" width="1" height="85" fill="#c0c0c0"/>
<rect x="760" y="641" width="1" height="81" fill="#c0c0c0"/>
<rect x="768" y="641" width="1" height="78" fill="#c0c0c0"/>
<rect x="776" y="641" width="1" height="84" fill="#c0c0c0"/>
<rect x="784" y="641" width="1" height="95" fill="#c0c0c0"/>
<rect x="792" y="641" width="1" height="97" fill="#c0c0c0"/>
<rect x="800" y="641" width="1" height="92" fill="#c0c0c0"/>
<rect x="808" y="641" width="1" height="88" fill="#c0c0c0"/>
<rect x="816" y="641" width="1" height="84" fill="#c0c0c0"/>
<rect x="824" y="641" width="1" height="77" fill="#c0c0c0"/>
<rect x="832" y="641" width="1" height="71" fill="#c0c0c0"/>
<rect x="840" y="641" width="1" height="61" fill="#c0c0c0"/>
<rect x="848" y="641" width="1" height="54" fill="#c0c0c0"/>
<rect x="856" y="641" width="1" height="46" fill="#c0c0c0"/>
<rect x="864" y="641" width="1" height="39" fill="#c0c0c0"/>
<rect x="872" y="641" width="1" height="32" fill="#c0c0c0"/>
<rect x="880" y="641" width="1" height="28" fill="#c0c0c0"/>
<rect x="888" y="641" width="1" height="23" fill="#c0c0c0"/>
<rect x="896" y="641" width="1" height="20" fill="#c0c0c0"/>
<rect x="904" y="641" width="1" height="18" fill="#c0c0c0"/>
<rect x="912" y="641" width="1" height="18" fill="#c0c0c0"/>
<rect x="920" y="641" width="1" height="9" fill="#c0c0c0"/>
<rect x="936" y="633" width="1" height="9" fill="#c0c0c0"/>
<rect x="944" y="628" width="1" height="14" fill="#c0c0c0"/>
<rect x="952" y="626" width="1" height="16" fill="#c0c0c0"/>
<rect x="960" y="626" width="1" height="16" fill="#c0c0c0"/>
<rect x="968" y="629" width="1" height="13" fill="#c0c0c0"/>
<rect x="976" y="631" width="1" height="11" fill="#c0c0c0"/>
<rect x="984" y="632" width="1" height="10" fill="#c0c0c0"/>
<rect x="992" y="634" width="1" height="8" fill="#c0c0c0"/>
<rect x="1000" y="638" width="1" height="4" fill="#c0c0c0"/>
<rect x="1008" y="640" width="1" height="2" fill="#c0c0c0"/>
<rect x="1024" y="641" width="1" height="1" fill="#c0c0c0"/>
<rect x="1032" y="641" width="1" height="2" fill="#c0c0c0"/>
<rect x="1040" y="641" width="1" height="3" fill="#c0c0c0"/>
<rect x="1048" y="641" width="1" height="3" fill="#c0c0c0"/>
<rect x="1056" y="641" width="1" height="1" fill="#c0c0c0"/>
<rect x="1064" y="638" width="1" height="4" fill="#c0c0c0"/>
<rect x="1072" y="631" width="1" height="11" fill="#c0c0c0"/>
<rect x="1080" y="625" width="1" height="17" fill="#c0c0c0"/>
<rect x="1088" y="621" width="1" height="21" fill="#c0c0c0"/>
<rect x="1096" y="616" width="1" height="26" fill="#c0c0c0"/>
<rect x="1104" y="612" width="1" height="30" fill="#c0c0c0"/>
<rect x="1112" y="606" width="1" height="36" fill="#c0c0c0"/>
<rect x="1120" y="600" width="1" height="42" fill="#c0c0c0"/>
<rect x="1128" y="596" width="1" height="46" fill="#c0c0c0"/>
<rect x="1136" y="592" width="1" height="50" fill="#c0c0c0"/>
<rect x="1144" y="590" width="1" height="52" fill="#c0c0c0"/>
<rect x="1152" y="590" width="1" height="52" fill="#c0c0c0"/>
<rect x="1160" y="593" width="1" height="49" fill="#c0c0c0"/>
<rect x="1168" y="597" width="1" height="45" fill="#c0c0c0"/>
<rect x="1176" y="598" width="1" height="44" fill="#c0c0c0"/>
<rect x="1184" y="599" width="1" height="43" fill="#c0c0c0"/>
<rect x="1192" y="601" width="1" height="41" fill="#c0c0c0"/>
<rect x="1200" y="602" width="1" height="40" fill="#c0c0c0"/>
<rect x="1208" y="600" width="1" height="42" fill="#c0c0c0"/>
<rect x="1216" y="598" width="1" height="44" fill="#c0c0c0"/>
<rect x="1224" y="597" width="1" height="45" fill="#c0c0c0"/>
<rect x="1232" y="596" width="1" height="46" fill="#c0c0c0"/>
<rect x="1240" y="596" width="1" height="46" fill="#c0c0c0"/>
<rect x="1248" y="596" width="1" height="46" fill="#c0c0c0"/>
<rect x="1256" y="597" width="1" height="45" fill="#c0c0c0"/>
<rect x="1264" y="600" width="1" height="42" fill="#c0c0c0"/>
<rect x="1272" y="601" width="1" height="41" fill="#c0c0c0"/>
<rect x="1280" y="603" width="1" height="39" fill="#c0c0c0"/>
<rect x="1288" y="606" width="1" height="36" fill="#c0c0c0"/>
<rect x="1296" y="611" width="1" height="31" fill="#c0c0c0"/>
<rect x="1304" y="617" width="1" height="25" fill="#c0c0c0"/>
<rect x="1312" y="630" width="1" height="12" fill="#c0c0c0"/>
<rect x="1320" y="638" width="1" height="4" fill="#c0c0c0"/>
<rect x="1328" y="641" width="1" height="4" fill="#c0c0c0"/>
<rect x="1336" y="641" width="1" height="10" fill="#c0c0c0"/>
<rect x="1344" y="641" width="1" height="15" fill="#c0c0c0"/>
<rect x="1352" y="641" width="1" height="13" fill="#c0c0c0"/>
<rect x="1360" y="641" width="1" height="11" fill="#c0c0c0"/>
<rect x="1368" y="641" width="1" height="11" fill="#c0c0c0"/>
<rect x="1376" y="641" width="1" height="11" fill="#c0c0c0"/>
<rect x="1384" y="641" width="1" height="11" fill="#c0c0c0"/>
<polyline points="0.0,600.5 32.2,600.5 49.5,605.2 71.7,610.4 98.9,617.0 116.2,619.0 133.6,623.2 153.4,625.7 173.1,630.7 192.9,633.1 207.8,637.3 217.7,642.3 230.0,650.4 241.2,656.6 249.8,662.1 264.7,667.8 279.5,669.7 294.3,669.7 306.7,668.2 329.0,665.3 351.2,661.6 366.1,656.6 380.9,649.2 395.7,644.3 408.1,639.3 420.0,636.3 432.4,634.4 448.0,632.6 469.5,631.4 481.8,631.4 499.1,632.6 518.9,638.1 536.2,646.2 551.1,652.2 568.4,656.1 588.2,658.6 608.0,659.6 623.8,661.6 640.1,669.0 657.4,677.2 677.2,683.8 692.1,693.7 706.9,703.6 721.8,713.5 736.6,723.4 749.0,730.1 760.1,733.3 783.6,732.3 805.9,730.1 828.1,728.4 840.0,725.1 849.9,720.9 864.7,708.6 879.6,696.2 896.9,682.6 911.7,672.7 929.0,661.6 946.4,649.9 963.7,641.0 978.5,634.4 993.4,630.7 1008.2,631.1 1023.0,633.9 1037.9,637.6 1052.7,639.8 1062.6,641.8 1072.5,640.5 1087.3,636.8 1102.2,631.4 1119.5,620.8 1136.8,610.9 1151.6,602.7 1166.5,597.3 1186.3,594.3 1198.6,594.8 1211.0,597.3 1235.7,598.5 1260.0,597.7 1285.8,597.7 1306.4,602.1 1321.9,611.1 1337.4,622.7 1350.3,632.3 1363.2,640.8 1373.5,647.2 1383.8,649.8" fill="none" stroke="#ff0000" stroke-width="1" stroke-dasharray="3 3"/>
<rect x="1652" y="582" width="1" height="1" fill="#000" />
<rect x="1652" y="641" width="1" height="1" fill="#000" />
<rect x="1652" y="749" width="1" height="1" fill="#000" />
<line x1="1328.5" y1="653.5" x2="1389.0" y2="653.5" stroke="#ff0000" stroke-width="3"/>
<polygon points="1399.0,653.5 1388.0,657.5 1388.0,649.5" fill="#ff0000"/>
</g>
<text x="-3.5" y="593" font-size="10" fill="#000" textLength="125.5" lengthAdjust="spacingAndGlyphs" >MACD(12,26,9) -66.54 -48.12</text>
<text x="1654.8" y="591" font-size="10" fill="#000" textLength="28.5" lengthAdjust="spacingAndGlyphs" >277.81</text>
<text x="1654.8" y="645" font-size="10" fill="#000" textLength="19" lengthAdjust="spacingAndGlyphs" >0.00</text>
<text x="1654.8" y="747" font-size="10" fill="#000" textLength="32" lengthAdjust="spacingAndGlyphs" >-510.44</text>
<g shape-rendering="crispEdges">
<line x1="0" y1="788.5" x2="1651" y2="788.5" stroke="#c0c0c0" stroke-width="1" stroke-dasharray="3 3" stroke-dashoffset="1"/>
<line x1="0" y1="839.5" x2="1651" y2="839.5" stroke="#c0c0c0" stroke-width="1" stroke-dasharray="3 3" stroke-dashoffset="1"/>
<line x1="0" y1="900.5" x2="1651" y2="900.5" stroke="#c0c0c0" stroke-width="1" stroke-dasharray="3 3" stroke-dashoffset="1"/>
<path d="M1134 796h10v1h-10zM1130 797h4v1h-4zM1243 797h5v1h-5zM1119 798h11v1h-11zM1236 798h7v1h-7zM1117 799h2v1h-2zM1221 799h15v1h-15zM1115 800h2v1h-2zM1147 800h2v1h-2zM1217 800h4v1h-4zM1113 801h2v1h-2zM1214 801h3v1h-3zM1212 802h2v1h-2zM1110 803h2v1h-2zM1210 803h2v1h-2zM1108 804h2v1h-2zM1208 804h2v1h-2zM1106 805h2v1h-2zM1104 806h2v1h-2zM1101 807h3v1h-3zM1097 808h4v1h-4zM1203 808h2v1h-2zM1271 808h2v1h-2zM1095 809h2v1h-2zM1268 809h3v1h-3zM1273 809h2v1h-2zM1093 810h2v1h-2zM1256 810h4v1h-4zM1266 810h2v1h-2zM1260 811h6v1h-6zM1276 811h2v1h-2zM1197 812h3v1h-3zM1278 812h2v1h-2zM1089 813h2v1h-2zM1193 813h4v1h-4zM7 814h2v1h-2zM1078 814h11v1h-11zM1183 814h10v1h-10zM1281 814h2v1h-2zM5 815h2v1h-2zM1074 815h4v1h-4zM1180 815h3v1h-3zM1283 815h2v1h-2zM3 816h2v1h-2zM1072 816h2v1h-2zM1177 816h3v1h-3zM1285 816h2v1h-2zM1 817h2v1h-2zM1070 817h2v1h-2zM1175 817h2v1h-2zM1287 817h2v1h-2zM1068 818h2v1h-2zM1173 818h2v1h-2zM92 819h5v1h-5zM1163 819h2v1h-2zM1171 819h2v1h-2zM87 820h5v1h-5zM1065 820h2v1h-2zM85 821h2v1h-2zM1168 821h2v1h-2zM83 822h2v1h-2zM924 822h5v1h-5zM81 823h2v1h-2zM919 823h5v1h-5zM943 824h2v1h-2zM55 825h3v1h-3zM375 825h2v1h-2zM945 825h2v1h-2zM53 826h2v1h-2zM58 826h2v1h-2zM372 826h3v1h-3zM377 826h2v1h-2zM947 826h2v1h-2zM51 827h2v1h-2zM60 827h3v1h-3zM360 827h4v1h-4zM370 827h2v1h-2zM431 827h3v1h-3zM949 827h2v1h-2zM49 828h2v1h-2zM63 828h2v1h-2zM364 828h6v1h-6zM380 828h2v1h-2zM428 828h3v1h-3zM434 828h4v1h-4zM951 828h3v1h-3zM65 829h2v1h-2zM382 829h2v1h-2zM388 829h5v1h-5zM426 829h2v1h-2zM438 829h3v1h-3zM954 829h4v1h-4zM46 830h2v1h-2zM384 830h4v1h-4zM420 830h6v1h-6zM441 830h2v1h-2zM958 830h2v1h-2zM68 831h2v1h-2zM415 831h5v1h-5zM468 831h4v1h-4zM70 832h2v1h-2zM128 832h2v1h-2zM413 832h2v1h-2zM444 832h2v1h-2zM463 832h5v1h-5zM42 833h2v1h-2zM130 833h4v1h-4zM411 833h2v1h-2zM446 833h2v1h-2zM459 833h4v1h-4zM24 834h2v1h-2zM134 834h3v1h-3zM150 834h2v1h-2zM409 834h2v1h-2zM448 834h11v1h-11zM26 835h2v1h-2zM38 835h3v1h-3zM137 835h2v1h-2zM148 835h2v1h-2zM342 835h4v1h-4zM406 835h3v1h-3zM475 835h2v1h-2zM28 836h3v1h-3zM34 836h4v1h-4zM139 836h2v1h-2zM338 836h4v1h-4zM346 836h4v1h-4zM402 836h4v1h-4zM31 837h3v1h-3zM141 837h2v1h-2zM145 837h2v1h-2zM156 837h2v1h-2zM336 837h2v1h-2zM350 837h3v1h-3zM400 837h2v1h-2zM1053 837h2v1h-2zM143 838h2v1h-2zM334 838h2v1h-2zM869 838h4v1h-4zM989 838h3v1h-3zM1051 838h2v1h-2zM1298 838h2v1h-2zM865 839h4v1h-4zM873 839h3v1h-3zM985 839h4v1h-4zM1022 839h2v1h-2zM1049 839h2v1h-2zM1359 839h2v1h-2zM112 840h9v1h-9zM160 840h2v1h-2zM481 840h2v1h-2zM548 840h6v1h-6zM862 840h3v1h-3zM876 840h3v1h-3zM884 840h7v1h-7zM974 840h11v1h-11zM1020 840h2v1h-2zM1047 840h2v1h-2zM1356 840h3v1h-3zM1361 840h2v1h-2zM162 841h2v1h-2zM330 841h2v1h-2zM483 841h2v1h-2zM544 841h4v1h-4zM554 841h4v1h-4zM860 841h2v1h-2zM879 841h5v1h-5zM891 841h7v1h-7zM970 841h4v1h-4zM1018 841h2v1h-2zM1027 841h2v1h-2zM1045 841h2v1h-2zM1302 841h2v1h-2zM1354 841h2v1h-2zM164 842h3v1h-3zM191 842h2v1h-2zM318 842h6v1h-6zM485 842h2v1h-2zM558 842h3v1h-3zM858 842h2v1h-2zM898 842h4v1h-4zM967 842h3v1h-3zM1016 842h2v1h-2zM1043 842h2v1h-2zM1352 842h2v1h-2zM1364 842h2v1h-2zM167 843h5v1h-5zM314 843h4v1h-4zM324 843h5v1h-5zM487 843h2v1h-2zM561 843h2v1h-2zM853 843h5v1h-5zM902 843h3v1h-3zM1041 843h2v1h-2zM1366 843h2v1h-2zM172 844h5v1h-5zM188 844h2v1h-2zM268 844h2v1h-2zM312 844h2v1h-2zM563 844h2v1h-2zM840 844h13v1h-13zM905 844h2v1h-2zM1031 844h10v1h-10zM177 845h2v1h-2zM276 845h2v1h-2zM310 845h2v1h-2zM565 845h2v1h-2zM838 845h2v1h-2zM179 846h2v1h-2zM308 846h2v1h-2zM567 846h2v1h-2zM836 846h2v1h-2zM104 847h2v1h-2zM181 847h2v1h-2zM909 847h3v1h-3zM183 848h2v1h-2zM305 848h2v1h-2zM833 848h2v1h-2zM1000 848h2v1h-2zM1372 848h2v1h-2zM247 849h2v1h-2zM281 849h2v1h-2zM1002 849h2v1h-2zM244 850h3v1h-3zM572 850h2v1h-2zM830 850h2v1h-2zM1004 850h2v1h-2zM242 851h2v1h-2zM284 851h2v1h-2zM1006 851h2v1h-2zM1376 851h4v1h-4zM240 852h2v1h-2zM286 852h2v1h-2zM1380 852h5v1h-5zM826 853h2v1h-2zM289 854h2v1h-2zM578 855h2v1h-2zM591 855h2v1h-2zM292 856h2v1h-2zM589 856h2v1h-2zM593 856h2v1h-2zM822 856h2v1h-2zM294 857h2v1h-2zM587 857h2v1h-2zM820 857h2v1h-2zM582 858h2v1h-2zM585 858h2v1h-2zM596 858h2v1h-2zM656 858h17v1h-17zM598 859h2v1h-2zM751 859h3v1h-3zM800 859h4v1h-4zM817 859h2v1h-2zM600 860h9v1h-9zM748 860h3v1h-3zM754 860h2v1h-2zM804 860h13v1h-13zM746 861h2v1h-2zM756 861h3v1h-3zM744 862h2v1h-2zM759 862h2v1h-2zM761 863h2v1h-2zM763 864h2v1h-2zM1320 864h2v1h-2zM202 865h2v1h-2zM765 865h2v1h-2zM1322 865h2v1h-2zM527 866h2v1h-2zM767 866h2v1h-2zM1324 866h3v1h-3zM510 867h2v1h-2zM513 867h2v1h-2zM525 867h2v1h-2zM1327 867h3v1h-3zM206 868h2v1h-2zM515 868h2v1h-2zM523 868h2v1h-2zM616 868h2v1h-2zM1330 868h2v1h-2zM208 869h2v1h-2zM517 869h2v1h-2zM521 869h2v1h-2zM618 869h2v1h-2zM1332 869h3v1h-3zM210 870h2v1h-2zM506 870h2v1h-2zM519 870h2v1h-2zM620 870h3v1h-3zM1335 870h2v1h-2zM212 871h3v1h-3zM504 871h2v1h-2zM623 871h2v1h-2zM215 872h2v1h-2zM1312 873h2v1h-2zM535 874h2v1h-2zM735 874h2v1h-2zM733 875h2v1h-2zM731 876h2v1h-2zM729 877h2v1h-2zM727 878h2v1h-2zM680 879h4v1h-4zM725 879h2v1h-2zM640 880h2v1h-2zM684 880h5v1h-5zM723 880h2v1h-2zM642 881h4v1h-4zM721 881h2v1h-2zM646 882h3v1h-3zM716 882h5v1h-5zM778 882h2v1h-2zM711 883h5v1h-5zM708 884h3v1h-3zM706 885h2v1h-2zM782 885h2v1h-2zM704 886h2v1h-2zM702 887h2v1h-2zM632 888h2v1h-2zM698 890h2v1h-2zM0 818h1v1h-1zM9 815h1v1h-1zM10 816h1v2h-1zM11 818h1v1h-1zM12 819h1v1h-1zM13 820h1v1h-1zM14 821h1v2h-1zM15 823h1v1h-1zM16 824h1v1h-1zM17 825h1v1h-1zM18 826h1v2h-1zM19 828h1v1h-1zM20 829h1v1h-1zM21 830h1v1h-1zM22 831h1v2h-1zM23 833h1v1h-1zM41 834h1v1h-1zM44 832h1v1h-1zM45 831h1v1h-1zM48 829h1v1h-1zM67 830h1v1h-1zM72 833h1v1h-1zM73 832h1v1h-1zM74 831h1v1h-1zM75 830h1v1h-1zM76 828h1v2h-1zM77 827h1v1h-1zM78 826h1v1h-1zM79 825h1v1h-1zM80 824h1v1h-1zM96 820h1v1h-1zM97 821h1v4h-1zM98 825h1v4h-1zM99 829h1v3h-1zM100 832h1v4h-1zM101 836h1v3h-1zM102 839h1v4h-1zM103 843h1v4h-1zM104 848h1v1h-1zM106 846h1v1h-1zM107 845h1v1h-1zM108 844h1v1h-1zM109 843h1v1h-1zM110 842h1v1h-1zM111 841h1v1h-1zM121 839h1v1h-1zM122 838h1v1h-1zM123 837h1v1h-1zM124 836h1v1h-1zM125 835h1v1h-1zM126 834h1v1h-1zM127 833h1v1h-1zM147 836h1v1h-1zM152 833h1v1h-1zM153 834h1v1h-1zM154 835h1v1h-1zM155 836h1v1h-1zM158 838h1v1h-1zM159 839h1v1h-1zM185 847h1v1h-1zM186 846h1v1h-1zM187 845h1v1h-1zM190 843h1v1h-1zM192 841h1v1h-1zM193 843h1v3h-1zM194 846h1v2h-1zM195 848h1v3h-1zM196 851h1v3h-1zM197 854h1v3h-1zM198 857h1v2h-1zM199 859h1v3h-1zM200 862h1v2h-1zM201 864h1v1h-1zM204 866h1v1h-1zM205 867h1v1h-1zM217 873h1v1h-1zM218 874h1v1h-1zM219 875h1v1h-1zM220 876h1v1h-1zM221 877h1v1h-1zM222 878h1v1h-1zM223 879h1v1h-1zM224 880h1v1h-1zM225 878h1v2h-1zM226 876h1v2h-1zM227 874h1v2h-1zM228 872h1v2h-1zM229 870h1v2h-1zM230 868h1v2h-1zM231 866h1v2h-1zM232 865h1v1h-1zM233 863h1v2h-1zM234 861h1v2h-1zM235 860h1v1h-1zM236 858h1v2h-1zM237 857h1v1h-1zM238 855h1v2h-1zM239 853h1v2h-1zM249 847h1v2h-1zM250 846h1v1h-1zM251 844h1v2h-1zM252 843h1v1h-1zM253 841h1v2h-1zM254 840h1v1h-1zM255 838h1v2h-1zM256 837h1v1h-1zM257 838h1v2h-1zM258 840h1v1h-1zM259 841h1v1h-1zM260 842h1v2h-1zM261 844h1v1h-1zM262 845h1v1h-1zM263 846h1v2h-1zM264 848h1v1h-1zM265 847h1v1h-1zM266 846h1v1h-1zM267 845h1v1h-1zM270 843h1v1h-1zM271 842h1v1h-1zM272 841h1v1h-1zM273 842h1v1h-1zM274 843h1v1h-1zM275 844h1v1h-1zM278 846h1v1h-1zM279 847h1v1h-1zM280 848h1v1h-1zM283 850h1v1h-1zM288 853h1v1h-1zM291 855h1v1h-1zM296 858h1v1h-1zM297 857h1v1h-1zM298 856h1v1h-1zM299 855h1v1h-1zM300 853h1v2h-1zM301 852h1v1h-1zM302 851h1v1h-1zM303 850h1v1h-1zM304 849h1v1h-1zM307 847h1v1h-1zM329 842h1v1h-1zM332 840h1v1h-1zM333 839h1v1h-1zM353 836h1v1h-1zM354 834h1v2h-1zM355 833h1v1h-1zM356 832h1v1h-1zM357 831h1v1h-1zM358 829h1v2h-1zM359 828h1v1h-1zM379 827h1v1h-1zM393 830h1v1h-1zM394 831h1v1h-1zM395 832h1v1h-1zM396 833h1v1h-1zM397 834h1v1h-1zM398 835h1v1h-1zM399 836h1v1h-1zM443 831h1v1h-1zM472 832h1v1h-1zM473 833h1v1h-1zM474 834h1v1h-1zM477 836h1v1h-1zM478 837h1v1h-1zM479 838h1v1h-1zM480 839h1v1h-1zM489 844h1v2h-1zM490 846h1v1h-1zM491 847h1v1h-1zM492 848h1v2h-1zM493 850h1v1h-1zM494 851h1v2h-1zM495 853h1v2h-1zM496 855h1v2h-1zM497 857h1v2h-1zM498 859h1v2h-1zM499 861h1v2h-1zM500 863h1v2h-1zM501 865h1v2h-1zM502 867h1v2h-1zM503 869h1v2h-1zM504 872h1v1h-1zM508 869h1v1h-1zM509 868h1v1h-1zM512 866h1v1h-1zM529 867h1v1h-1zM530 868h1v1h-1zM531 869h1v1h-1zM532 870h1v2h-1zM533 872h1v1h-1zM534 873h1v1h-1zM536 873h1v1h-1zM536 875h1v1h-1zM537 869h1v4h-1zM538 865h1v4h-1zM539 861h1v4h-1zM540 856h1v5h-1zM541 852h1v4h-1zM542 848h1v4h-1zM543 844h1v4h-1zM544 842h1v2h-1zM569 847h1v1h-1zM570 848h1v1h-1zM571 849h1v1h-1zM574 851h1v1h-1zM575 852h1v1h-1zM576 853h1v1h-1zM577 854h1v1h-1zM580 856h1v1h-1zM581 857h1v1h-1zM584 859h1v1h-1zM595 857h1v1h-1zM609 861h1v1h-1zM610 862h1v1h-1zM611 863h1v1h-1zM612 864h1v1h-1zM613 865h1v1h-1zM614 866h1v1h-1zM615 867h1v1h-1zM624 872h1v1h-1zM625 873h1v2h-1zM626 875h1v2h-1zM627 877h1v2h-1zM628 879h1v3h-1zM629 882h1v2h-1zM630 884h1v2h-1zM631 886h1v2h-1zM632 889h1v1h-1zM634 887h1v1h-1zM635 886h1v1h-1zM636 884h1v2h-1zM637 883h1v1h-1zM638 882h1v1h-1zM639 881h1v1h-1zM648 881h1v1h-1zM649 878h1v3h-1zM650 875h1v3h-1zM651 872h1v3h-1zM652 869h1v3h-1zM653 866h1v3h-1zM654 863h1v3h-1zM655 860h1v3h-1zM656 859h1v1h-1zM672 859h1v1h-1zM673 860h1v2h-1zM674 862h1v3h-1zM675 865h1v3h-1zM676 868h1v2h-1zM677 870h1v3h-1zM678 873h1v3h-1zM679 876h1v2h-1zM680 878h1v1h-1zM689 881h1v2h-1zM690 883h1v1h-1zM691 884h1v2h-1zM692 886h1v1h-1zM693 887h1v2h-1zM694 889h1v1h-1zM695 890h1v2h-1zM696 892h1v1h-1zM697 891h1v1h-1zM700 889h1v1h-1zM701 888h1v1h-1zM737 872h1v2h-1zM738 871h1v1h-1zM739 869h1v2h-1zM740 868h1v1h-1zM741 866h1v2h-1zM742 865h1v1h-1zM743 863h1v2h-1zM769 867h1v2h-1zM770 869h1v2h-1zM771 871h1v2h-1zM772 873h1v1h-1zM773 874h1v2h-1zM774 876h1v2h-1zM775 878h1v2h-1zM776 880h1v1h-1zM777 881h1v1h-1zM780 883h1v1h-1zM781 884h1v1h-1zM784 886h1v1h-1zM785 884h1v2h-1zM786 882h1v2h-1zM787 880h1v2h-1zM788 879h1v1h-1zM789 877h1v2h-1zM790 875h1v2h-1zM791 873h1v2h-1zM792 872h1v1h-1zM793 870h1v2h-1zM794 868h1v2h-1zM795 867h1v1h-1zM796 865h1v2h-1zM797 864h1v1h-1zM798 862h1v2h-1zM799 860h1v2h-1zM819 858h1v1h-1zM824 855h1v1h-1zM825 854h1v1h-1zM828 852h1v1h-1zM829 851h1v1h-1zM832 849h1v1h-1zM835 847h1v1h-1zM907 845h1v1h-1zM908 846h1v1h-1zM911 848h1v1h-1zM912 844h1v3h-1zM913 841h1v3h-1zM914 838h1v3h-1zM915 834h1v4h-1zM916 831h1v3h-1zM917 828h1v3h-1zM918 825h1v3h-1zM919 824h1v1h-1zM929 821h1v1h-1zM930 819h1v2h-1zM931 818h1v1h-1zM932 817h1v1h-1zM933 815h1v2h-1zM934 814h1v1h-1zM935 813h1v1h-1zM936 814h1v2h-1zM937 816h1v1h-1zM938 817h1v1h-1zM939 818h1v2h-1zM940 820h1v1h-1zM941 821h1v1h-1zM942 822h1v2h-1zM960 831h1v2h-1zM961 833h1v1h-1zM962 834h1v2h-1zM963 836h1v1h-1zM964 837h1v2h-1zM965 839h1v1h-1zM966 840h1v2h-1zM992 839h1v1h-1zM993 840h1v1h-1zM994 841h1v1h-1zM995 842h1v1h-1zM996 843h1v2h-1zM997 845h1v1h-1zM998 846h1v1h-1zM999 847h1v1h-1zM1008 850h1v1h-1zM1009 849h1v1h-1zM1010 848h1v1h-1zM1011 847h1v1h-1zM1012 846h1v1h-1zM1013 845h1v1h-1zM1014 844h1v1h-1zM1015 843h1v1h-1zM1024 838h1v1h-1zM1025 839h1v1h-1zM1026 840h1v1h-1zM1029 842h1v1h-1zM1030 843h1v1h-1zM1055 836h1v1h-1zM1056 834h1v2h-1zM1057 832h1v2h-1zM1058 831h1v1h-1zM1059 829h1v2h-1zM1060 827h1v2h-1zM1061 826h1v1h-1zM1062 824h1v2h-1zM1063 822h1v2h-1zM1064 821h1v1h-1zM1067 819h1v1h-1zM1091 812h1v1h-1zM1092 811h1v1h-1zM1112 802h1v1h-1zM1144 797h1v1h-1zM1145 798h1v1h-1zM1146 799h1v1h-1zM1149 801h1v1h-1zM1150 802h1v1h-1zM1151 803h1v1h-1zM1152 804h1v2h-1zM1153 806h1v1h-1zM1154 807h1v2h-1zM1155 809h1v1h-1zM1156 810h1v1h-1zM1157 811h1v2h-1zM1158 813h1v1h-1zM1159 814h1v2h-1zM1160 816h1v1h-1zM1161 817h1v1h-1zM1162 818h1v1h-1zM1165 820h1v1h-1zM1166 821h1v1h-1zM1167 822h1v1h-1zM1170 820h1v1h-1zM1200 811h1v1h-1zM1201 810h1v1h-1zM1202 809h1v1h-1zM1205 807h1v1h-1zM1206 806h1v1h-1zM1207 805h1v1h-1zM1248 798h1v2h-1zM1249 800h1v1h-1zM1250 801h1v2h-1zM1251 803h1v1h-1zM1252 804h1v1h-1zM1253 805h1v2h-1zM1254 807h1v1h-1zM1255 808h1v2h-1zM1275 810h1v1h-1zM1280 813h1v1h-1zM1288 818h1v1h-1zM1289 819h1v2h-1zM1290 821h1v2h-1zM1291 823h1v3h-1zM1292 826h1v2h-1zM1293 828h1v3h-1zM1294 831h1v2h-1zM1295 833h1v2h-1zM1296 835h1v2h-1zM1297 837h1v1h-1zM1300 839h1v1h-1zM1301 840h1v1h-1zM1304 842h1v2h-1zM1305 844h1v4h-1zM1306 848h1v4h-1zM1307 852h1v4h-1zM1308 856h1v4h-1zM1309 860h1v4h-1zM1310 864h1v4h-1zM1311 868h1v4h-1zM1312 872h1v1h-1zM1312 874h1v1h-1zM1314 871h1v2h-1zM1315 870h1v1h-1zM1316 869h1v1h-1zM1317 868h1v1h-1zM1318 866h1v2h-1zM1319 865h1v1h-1zM1337 869h1v1h-1zM1338 868h1v1h-1zM1339 867h1v1h-1zM1340 866h1v1h-1zM1341 865h1v1h-1zM1342 864h1v1h-1zM1343 863h1v1h-1zM1344 861h1v2h-1zM1345 859h1v2h-1zM1346 856h1v3h-1zM1347 854h1v2h-1zM1348 851h1v3h-1zM1349 849h1v2h-1zM1350 846h1v3h-1zM1351 844h1v2h-1zM1352 843h1v1h-1zM1363 841h1v1h-1zM1368 844h1v1h-1zM1369 845h1v1h-1zM1370 846h1v1h-1zM1371 847h1v1h-1zM1374 849h1v1h-1zM1375 850h1v1h-1z" fill="#1e90ff"/>
<rect x="1652" y="754" width="1" height="1" fill="#000" />
<rect x="1652" y="925" width="1" height="1" fill="#000" />
<line x1="1353.4" y1="840.9" x2="1389.8" y2="852.7" stroke="#ff0000" stroke-width="3"/>
<polygon points="1399.3,855.8 1387.6,856.2 1390.1,848.6" fill="#ff0000"/>
</g>
<text x="-3.5" y="765" font-size="10" fill="#000" textLength="69" lengthAdjust="spacingAndGlyphs" >RSI(14) 42.4366</text>
<text x="1654.8" y="763" font-size="10" fill="#000" textLength="15.5" lengthAdjust="spacingAndGlyphs" >100</text>
<text x="1654.8" y="792" font-size="10" fill="#000" textLength="10.3" lengthAdjust="spacingAndGlyphs" >80</text>
<text x="1654.8" y="843" font-size="10" fill="#000" textLength="10.3" lengthAdjust="spacingAndGlyphs" >50</text>
<text x="1654.8" y="904" font-size="10" fill="#000" textLength="10.3" lengthAdjust="spacingAndGlyphs" >15</text>
<text x="1654.8" y="923" font-size="10" fill="#000" textLength="5.2" lengthAdjust="spacingAndGlyphs" >0</text>
<g shape-rendering="crispEdges">
<rect x="56" y="927" width="1" height="3" fill="#000"/>
<rect x="120" y="927" width="1" height="3" fill="#000"/>
<rect x="184" y="927" width="1" height="3" fill="#000"/>
<rect x="248" y="927" width="1" height="3" fill="#000"/>
<rect x="312" y="927" width="1" height="3" fill="#000"/>
<rect x="376" y="927" width="1" height="3" fill="#000"/>
<rect x="440" y="927" width="1" height="3" fill="#000"/>
<rect x="504" y="927" width="1" height="3" fill="#000"/>
<rect x="568" y="927" width="1" height="3" fill="#000"/>
<rect x="632" y="927" width="1" height="3" fill="#000"/>
<rect x="696" y="927" width="1" height="3" fill="#000"/>
<rect x="760" y="927" width="1" height="3" fill="#000"/>
<rect x="824" y="927" width="1" height="3" fill="#000"/>
<rect x="888" y="927" width="1" height="3" fill="#000"/>
<rect x="952" y="927" width="1" height="3" fill="#000"/>
<rect x="1016" y="927" width="1" height="3" fill="#000"/>
<rect x="1080" y="927" width="1" height="3" fill="#000"/>
<rect x="1144" y="927" width="1" height="3" fill="#000"/>
<rect x="1208" y="927" width="1" height="3" fill="#000"/>
<rect x="1272" y="927" width="1" height="3" fill="#000"/>
<rect x="1336" y="927" width="1" height="3" fill="#000"/>
</g>
<text x="-8.5" y="940" font-size="10" fill="#000" textLength="51.3" lengthAdjust="spacingAndGlyphs" >14 Sep 2021</text>
<text x="55.5" y="940" font-size="10" fill="#000" textLength="54.5" lengthAdjust="spacingAndGlyphs" >15 Sep 00:00</text>
<text x="119.5" y="940" font-size="10" fill="#000" textLength="54.5" lengthAdjust="spacingAndGlyphs" >16 Sep 10:55</text>
<text x="183.5" y="940" font-size="10" fill="#000" textLength="54.5" lengthAdjust="spacingAndGlyphs" >17 Sep 18:55</text>
<text x="247.5" y="940" font-size="10" fill="#000" textLength="54.5" lengthAdjust="spacingAndGlyphs" >21 Sep 00:00</text>
<text x="311.5" y="940" font-size="10" fill="#000" textLength="54.5" lengthAdjust="spacingAndGlyphs" >22 Sep 10:55</text>
<text x="375.5" y="940" font-size="10" fill="#000" textLength="54.5" lengthAdjust="spacingAndGlyphs" >23 Sep 18:55</text>
<text x="439.5" y="940" font-size="10" fill="#000" textLength="54.5" lengthAdjust="spacingAndGlyphs" >27 Sep 00:00</text>
<text x="503.5" y="940" font-size="10" fill="#000" textLength="54.5" lengthAdjust="spacingAndGlyphs" >28 Sep 10:55</text>
<text x="567.5" y="940" font-size="10" fill="#000" textLength="54.5" lengthAdjust="spacingAndGlyphs" >29 Sep 18:55</text>
<text x="631.5" y="940" font-size="10" fill="#000" textLength="48.2" lengthAdjust="spacingAndGlyphs" >1 Oct 00:00</text>
<text x="695.5" y="940" font-size="10" fill="#000" textLength="48.2" lengthAdjust="spacingAndGlyphs" >4 Oct 10:55</text>
<text x="759.5" y="940" font-size="10" fill="#000" textLength="48.2" lengthAdjust="spacingAndGlyphs" >5 Oct 18:55</text>
<text x="823.5" y="940" font-size="10" fill="#000" textLength="48.2" lengthAdjust="spacingAndGlyphs" >7 Oct 00:00</text>
<text x="887.5" y="940" font-size="10" fill="#000" textLength="48.2" lengthAdjust="spacingAndGlyphs" >8 Oct 10:55</text>
<text x="951.5" y="940" font-size="10" fill="#000" textLength="53.2" lengthAdjust="spacingAndGlyphs" >11 Oct 18:55</text>
<text x="1015.5" y="940" font-size="10" fill="#000" textLength="53.2" lengthAdjust="spacingAndGlyphs" >13 Oct 00:00</text>
<text x="1079.5" y="940" font-size="10" fill="#000" textLength="53.2" lengthAdjust="spacingAndGlyphs" >14 Oct 10:55</text>
<text x="1143.5" y="940" font-size="10" fill="#000" textLength="53.2" lengthAdjust="spacingAndGlyphs" >15 Oct 18:55</text>
<text x="1207.5" y="940" font-size="10" fill="#000" textLength="53.2" lengthAdjust="spacingAndGlyphs" >19 Oct 00:00</text>
<text x="1271.5" y="940" font-size="10" fill="#000" textLength="53.2" lengthAdjust="spacingAndGlyphs" >20 Oct 10:55</text>
<text x="1335.5" y="940" font-size="10" fill="#000" textLength="53.2" lengthAdjust="spacingAndGlyphs" >21 Oct 18:55</text>
<g id="toolbar">
<rect x="0" y="0" width="1698" height="21" fill="#f0f0f0" shape-rendering="crispEdges"/>
<rect x="0" y="20" width="1698" height="1" fill="#e4e4e4" shape-rendering="crispEdges"/>
<rect x="0" y="21" width="1698" height="1" fill="#bcbcbc" shape-rendering="crispEdges"/>
<rect x="0" y="22" width="1698" height="1" fill="#6e6e6e" shape-rendering="crispEdges"/>
<rect x="287" y="0" width="24" height="19" fill="#f9f9f9"/>
<rect x="438.5" y="0" width="24" height="19" fill="#f9f9f9"/>
<rect x="467" y="0" width="24" height="19" fill="#f9f9f9"/>
<rect x="627" y="0" width="24" height="19" fill="#f9f9f9"/>
<rect x="1073" y="0" width="24" height="19" fill="#f9f9f9"/>
<rect x="12" y="0" width="1.2" height="19" fill="#9c9c9c"/>
<rect x="248" y="0" width="1.2" height="19" fill="#9c9c9c"/>
<rect x="286" y="0" width="1.2" height="19" fill="#9c9c9c"/>
<rect x="343" y="0" width="1.2" height="19" fill="#9c9c9c"/>
<rect x="433" y="0" width="1.2" height="19" fill="#9c9c9c"/>
<rect x="437.7" y="0" width="1.2" height="19" fill="#9c9c9c"/>
<rect x="466" y="0" width="1.2" height="19" fill="#9c9c9c"/>
<rect x="495" y="0" width="1.2" height="19" fill="#9c9c9c"/>
<rect x="616" y="0" width="1.2" height="19" fill="#9c9c9c"/>
<rect x="626" y="0" width="1.2" height="19" fill="#9c9c9c"/>
<rect x="683" y="0" width="1.2" height="19" fill="#9c9c9c"/>
<rect x="922" y="0" width="1.2" height="19" fill="#9c9c9c"/>
<rect x="1072" y="0" width="1.2" height="19" fill="#9c9c9c"/>
<rect x="1183" y="0" width="1.2" height="19" fill="#9c9c9c"/>
<rect x="617" y="0" width="1" height="19" fill="#fff"/>
<rect x="252" y="1" width="3" height="1" fill="#b0b0b0" shape-rendering="crispEdges"/>
<rect x="252" y="3" width="3" height="1" fill="#b0b0b0" shape-rendering="crispEdges"/>
<rect x="252" y="5" width="3" height="1" fill="#b0b0b0" shape-rendering="crispEdges"/>
<rect x="252" y="7" width="3" height="1" fill="#b0b0b0" shape-rendering="crispEdges"/>
<rect x="252" y="9" width="3" height="1" fill="#b0b0b0" shape-rendering="crispEdges"/>
<rect x="252" y="11" width="3" height="1" fill="#b0b0b0" shape-rendering="crispEdges"/>
<rect x="252" y="13" width="3" height="1" fill="#b0b0b0" shape-rendering="crispEdges"/>
<rect x="252" y="15" width="3" height="1" fill="#b0b0b0" shape-rendering="crispEdges"/>
<rect x="252" y="17" width="3" height="1" fill="#b0b0b0" shape-rendering="crispEdges"/>
<rect x="620" y="1" width="3" height="1" fill="#b0b0b0" shape-rendering="crispEdges"/>
<rect x="620" y="3" width="3" height="1" fill="#b0b0b0" shape-rendering="crispEdges"/>
<rect x="620" y="5" width="3" height="1" fill="#b0b0b0" shape-rendering="crispEdges"/>
<rect x="620" y="7" width="3" height="1" fill="#b0b0b0" shape-rendering="crispEdges"/>
<rect x="620" y="9" width="3" height="1" fill="#b0b0b0" shape-rendering="crispEdges"/>
<rect x="620" y="11" width="3" height="1" fill="#b0b0b0" shape-rendering="crispEdges"/>
<rect x="620" y="13" width="3" height="1" fill="#b0b0b0" shape-rendering="crispEdges"/>
<rect x="620" y="15" width="3" height="1" fill="#b0b0b0" shape-rendering="crispEdges"/>
<rect x="620" y="17" width="3" height="1" fill="#b0b0b0" shape-rendering="crispEdges"/>
<rect x="926" y="1" width="3" height="1" fill="#b0b0b0" shape-rendering="crispEdges"/>
<rect x="926" y="3" width="3" height="1" fill="#b0b0b0" shape-rendering="crispEdges"/>
<rect x="926" y="5" width="3" height="1" fill="#b0b0b0" shape-rendering="crispEdges"/>
<rect x="926" y="7" width="3" height="1" fill="#b0b0b0" shape-rendering="crispEdges"/>
<rect x="926" y="9" width="3" height="1" fill="#b0b0b0" shape-rendering="crispEdges"/>
<rect x="926" y="11" width="3" height="1" fill="#b0b0b0" shape-rendering="crispEdges"/>
<rect x="926" y="13" width="3" height="1" fill="#b0b0b0" shape-rendering="crispEdges"/>
<rect x="926" y="15" width="3" height="1" fill="#b0b0b0" shape-rendering="crispEdges"/>
<rect x="926" y="17" width="3" height="1" fill="#b0b0b0" shape-rendering="crispEdges"/>
<line x1="0" y1="12" x2="4" y2="17.5" stroke="#c89a20" stroke-width="2.6"/>
<rect x="0" y="8" width="1.2" height="4" fill="#4a90e0"/>
<path d="M22.500 1.500h7.500l4 4v9h-11.500z" fill="#fdfdfd" stroke="#8c8c8c" stroke-width="1"/>
<path d="M30 1.500v4h4" fill="#e8e8e8" stroke="#8c8c8c" stroke-width="0.800"/>
<path d="M24.500 4.500h3M24.500 7h6M24.500 9.500h4" stroke="#a0a0a0" stroke-width="1" fill="none"/>
<path d="M30.400 7.200h3.800v4h4v3.800h-4v4h-3.800v-4h-4v-3.800h4z" fill="#1fd01f" stroke="#0c8c0c" stroke-width="0.900"/>
<text x="41" y="12.600" font-size="12" fill="#000">新订单</text>
<path d="M89.200 10.600l8.100 5.400 7.600-6.500v1.700l-7.600 6.600-8.100-5.600z" fill="#9a6606"/>
<path d="M95 2.200l9.900 7.200-7.600 6.500-8.100-5.300c0.300-2.300 2.500-3.800 3.800-4.300z" fill="url(#gGold)" stroke="#b07c0c" stroke-width="0.600"/>
<path d="M119.400 2.600l4.200-1.400 6.800 1.200v7.800h-11z" fill="#1e8cf0"/>
<path d="M123.300 3.600l7.100-1.200v7.800h-7.100z" fill="#6cc0ff"/>
<path d="M125 5.800l4.200-0.500v1.200l-4.200 0.500z" fill="#fff"/>
<path d="M120.200 16.600c-3.300 0-3.800-4.300-0.300-4.700 0.300-2.800 4.300-3.600 5.700-1.300 2.300-1.700 5.300 0 4.600 2.300 3.400 0.200 3.200 3.700 0.300 3.700z" fill="#eef2fa" stroke="#6a86bc" stroke-width="1"/>
<path d="M153.300 0.800a8 8 0 0 1 0 16z" fill="#d4e8d0"/>
<path d="M153.300 8.800l7.500 2.500a8 8 0 0 1 -7.500 5.500z" fill="#9ccc98"/>
<circle cx="153" cy="8.800" r="7.400" fill="none" stroke="#9ab6e4" stroke-width="1.100"/>
<circle cx="153" cy="8.800" r="5" fill="none" stroke="#7aa0dc" stroke-width="1.200"/>
<circle cx="153" cy="8.800" r="2.900" fill="none" stroke="#5a88d4" stroke-width="1.100"/>
<circle cx="153" cy="8.500" r="1.500" fill="#1c54c4"/>
<path d="M153.300 9.500v7.300" fill="none" stroke="#28a828" stroke-width="1.500"/>
<path d="M173.500 8l6 8.300h2.500l5.500-8.300z" fill="#f8d848" stroke="#d8a820" stroke-width="0.700"/>
<ellipse cx="180.200" cy="5.500" rx="7.800" ry="2.500" fill="#4a9ad8" stroke="#3482c4" stroke-width="0.700"/>
<ellipse cx="180.200" cy="3.600" rx="3.900" ry="2.500" fill="#68b0e8"/>
<circle cx="184.400" cy="12.600" r="4" fill="#e01c10"/>
<rect x="183" y="11.200" width="2.800" height="2.800" fill="#fff"/>
<text x="193.500" y="12.600" font-size="12" fill="#000">自动交易</text>
<path d="M266.3 4v12.800M264.0 14.400h12.500" stroke="#505050" stroke-width="1.400" fill="none"/>
<polygon points="266.3,2.600 264.7,5.600 267.9,5.600" fill="#505050"/>
<polygon points="277.9,14.400 275.3,12.900 275.3,15.900" fill="#505050"/>
<path d="M272.500 4.500v8.100M270.200 11.700h2.300M272.500 5.200h2.500" stroke="#109410" stroke-width="1.500" fill="none"/>
<path d="M294.5 4v12.800M292.2 14.400h12.500" stroke="#505050" stroke-width="1.400" fill="none"/>
<polygon points="294.5,2.600 292.9,5.600 296.1,5.600" fill="#505050"/>
<polygon points="306.1,14.400 303.5,12.900 303.5,15.900" fill="#505050"/>
<path d="M300.500 1.300v11.300" stroke="#0c8c0c" stroke-width="1.300"/><rect x="298.400" y="3.600" width="4.300" height="7.100" fill="#2ee02e" stroke="#0c8c0c" stroke-width="0.900"/>
<path d="M322.4 4v12.800M320.1 14.400h12.500" stroke="#505050" stroke-width="1.400" fill="none"/>
<polygon points="322.4,2.600 320.8,5.600 324.0,5.600" fill="#505050"/>
<polygon points="334.0,14.400 331.4,12.900 331.4,15.900" fill="#505050"/>
<path d="M321 11.700c2.500-1.500 3.500-5.500 6-5.500 2 0 3.500 3 5.700 4.200" stroke="#109410" stroke-width="1.300" fill="none"/>
<line x1="362" y1="11" x2="366.5" y2="15.700" stroke="#d4a818" stroke-width="3" stroke-linecap="round"/>
<circle cx="358" cy="6.500" r="5.400" fill="#d6ecff" stroke="#2e78d0" stroke-width="1.300"/>
<path d="M355 6.500h6" stroke="#4c8cc8" stroke-width="1.900"/>
<path d="M358 3.500v6" stroke="#4c8cc8" stroke-width="1.900"/>
<line x1="390" y1="11" x2="394.5" y2="15.700" stroke="#d4a818" stroke-width="3" stroke-linecap="round"/>
<circle cx="386" cy="6.500" r="5.400" fill="#d6ecff" stroke="#2e78d0" stroke-width="1.300"/>
<path d="M383 6.500h6" stroke="#4c8cc8" stroke-width="1.900"/>
<rect x="408" y="1" width="8" height="8" fill="#3aa41c"/>
<path d="M409 4h6v4h-1.300v-1.500h-3.400v1.500h-1.300z" fill="#eef4ff"/>
<rect x="408.8" y="1.8" width="1" height="1" fill="#d0e0ff"/>
<rect x="416" y="1" width="8" height="8" fill="#2a5ed2"/>
<path d="M417 4h6v4h-1.300v-1.500h-3.400v1.500h-1.300z" fill="#eef4ff"/>
<rect x="416.8" y="1.8" width="1" height="1" fill="#d0e0ff"/>
<rect x="408" y="9" width="8" height="8" fill="#2a5ed2"/>
<path d="M409 12h6v4h-1.300v-1.500h-3.400v1.500h-1.300z" fill="#eef4ff"/>
<rect x="408.8" y="9.8" width="1" height="1" fill="#d0e0ff"/>
<rect x="416" y="9" width="8" height="8" fill="#3aa41c"/>
<path d="M417 12h6v4h-1.300v-1.500h-3.400v1.500h-1.300z" fill="#eef4ff"/>
<rect x="416.8" y="9.8" width="1" height="1" fill="#d0e0ff"/>
<path d="M446.5 4v12.800M444.2 14.400h12.500" stroke="#505050" stroke-width="1.400" fill="none"/>
<polygon points="446.5,2.600 444.9,5.600 448.1,5.600" fill="#505050"/>
<polygon points="458.1,14.400 455.5,12.900 455.5,15.900" fill="#505050"/>
<polygon points="450.800,5 455.200,8.400 450.800,12" fill="#2edc2e" stroke="#0c8c0c" stroke-width="0.800"/>
<path d="M474.4 4v12.800M472.1 14.400h12.500" stroke="#505050" stroke-width="1.400" fill="none"/>
<polygon points="474.4,2.600 472.8,5.600 476.0,5.600" fill="#505050"/>
<polygon points="486.0,14.400 483.4,12.900 483.4,15.900" fill="#505050"/>
<path d="M480.400 2.900v10.100" stroke="#2878b8" stroke-width="1.400"/><path d="M486 8.400h-4" stroke="#d04000" stroke-width="1.300"/><polygon points="481.200,8.400 483.800,6.100 483.800,10.700" fill="#d04000"/>
<path d="M505.700 1.800h7.600l3.500 3.500v9.300h-11.100z" fill="#fafafa" stroke="#909090" stroke-width="1"/>
<path d="M513.300 1.800v3.500h3.500" fill="#e4e4e4" stroke="#909090" stroke-width="0.800"/>
<text x="507.300" y="11.500" font-size="10" font-style="italic" fill="#6a5020" font-family="Liberation Serif, serif">f</text>
<path d="M513 7.200h3.800v4h4v3.800h-4v4h-3.800v-4h-4v-3.800h4z" fill="#1fd01f" stroke="#0c8c0c" stroke-width="0.900"/>
<polygon points="526.8,7.800 532.2,7.800 529.5,11.100" fill="#000"/>
<polygon points="565.5999999999999,7.800 571.0,7.800 568.3,11.100" fill="#000"/>
<polygon points="604.6999999999999,7.800 610.1,7.800 607.4,11.100" fill="#000"/>
<polygon points="910.8,7.800 916.2,7.800 913.5,11.100" fill="#000"/>
<circle cx="550.800" cy="9.100" r="7.200" fill="#fdfdff" stroke="#1c6cd8" stroke-width="2.200"/>
<circle cx="550.800" cy="9.100" r="8.100" fill="none" stroke="#1450a8" stroke-width="0.600"/>
<path d="M550.800 5.500v3.800h2.600" stroke="#303030" stroke-width="1.100" fill="none"/>
<path d="M550.800 3.900v0.800M550.800 13.500v0.800M545.600 9.100h0.800M555.200 9.100h0.800" stroke="#8090b0" stroke-width="0.800"/>
<rect x="582.700" y="2.900" width="14.700" height="12.600" fill="#fff" stroke="#2f6fc0" stroke-width="1.300"/>
<rect x="583.300" y="3.100" width="13.500" height="1.700" fill="#78b0f0"/>
<path d="M583 9.700h14" stroke="#2f6fc0" stroke-width="1"/>
<path d="M584.500 8.300l2-0.200 2-1.600 2 0.900 2.500-0.300 2.500-1" stroke="#a02010" stroke-width="1.200" fill="none"/>
<path d="M585 13.700l2.500-1.200 2 1 3-2.300 2.500 2.300" stroke="#109410" stroke-width="1.200" fill="none"/>
<path d="M634.300 1.900v10.800l2.700-2.400 2.600 5.600 1.500-0.700-2.600-5.500h3.300z" fill="#505050"/>
<path d="M666.300 1.900v6.600M666.300 10.500v6.500M658.900 9.500h6.400M667.300 9.500h6.800" stroke="#505050" stroke-width="1.400"/>
<rect x="699.800" y="3" width="1.400" height="13" fill="#505050"/>
<rect x="723" y="8.800" width="12" height="1.400" fill="#505050"/>
<line x1="750.800" y1="15.500" x2="763.300" y2="3.700" stroke="#505050" stroke-width="1.300"/>
<path d="M776.800 11.500l12.500-9.500M777.800 14.500l12.500-9.500M780 16l10.500-8M780.500 6.500l1 9M784 4l1.500 9M788.500 1.500l0.800 7" stroke="#505050" stroke-width="0.900" fill="none"/>
<text x="787.800" y="17.800" font-size="6.500" font-weight="bold" fill="#404040">E</text>
<rect x="806" y="2" width="1" height="1" fill="#606060" shape-rendering="crispEdges"/>
<rect x="808" y="2" width="1" height="1" fill="#606060" shape-rendering="crispEdges"/>
<rect x="810" y="2" width="1" height="1" fill="#606060" shape-rendering="crispEdges"/>
<rect x="812" y="2" width="1" height="1" fill="#606060" shape-rendering="crispEdges"/>
<rect x="814" y="2" width="1" height="1" fill="#606060" shape-rendering="crispEdges"/>
<rect x="816" y="2" width="1" height="1" fill="#606060" shape-rendering="crispEdges"/>
<rect x="818" y="2" width="1" height="1" fill="#606060" shape-rendering="crispEdges"/>
<rect x="806" y="4" width="1" height="1" fill="#606060" shape-rendering="crispEdges"/>
<rect x="808" y="4" width="1" height="1" fill="#606060" shape-rendering="crispEdges"/>
<rect x="810" y="4" width="1" height="1" fill="#606060" shape-rendering="crispEdges"/>
<rect x="812" y="4" width="1" height="1" fill="#606060" shape-rendering="crispEdges"/>
<rect x="814" y="4" width="1" height="1" fill="#606060" shape-rendering="crispEdges"/>
<rect x="816" y="4" width="1" height="1" fill="#606060" shape-rendering="crispEdges"/>
<rect x="818" y="4" width="1" height="1" fill="#606060" shape-rendering="crispEdges"/>
<rect x="806" y="6" width="1" height="1" fill="#606060" shape-rendering="crispEdges"/>
<rect x="808" y="6" width="1" height="1" fill="#606060" shape-rendering="crispEdges"/>
<rect x="810" y="6" width="1" height="1" fill="#606060" shape-rendering="crispEdges"/>
<rect x="812" y="6" width="1" height="1" fill="#606060" shape-rendering="crispEdges"/>
<rect x="814" y="6" width="1" height="1" fill="#606060" shape-rendering="crispEdges"/>
<rect x="816" y="6" width="1" height="1" fill="#606060" shape-rendering="crispEdges"/>
<rect x="818" y="6" width="1" height="1" fill="#606060" shape-rendering="crispEdges"/>
<rect x="806" y="9" width="1" height="1" fill="#606060" shape-rendering="crispEdges"/>
<rect x="808" y="9" width="1" height="1" fill="#606060" shape-rendering="crispEdges"/>
<rect x="810" y="9" width="1" height="1" fill="#606060" shape-rendering="crispEdges"/>
<rect x="812" y="9" width="1" height="1" fill="#606060" shape-rendering="crispEdges"/>
<rect x="814" y="9" width="1" height="1" fill="#606060" shape-rendering="crispEdges"/>
<rect x="816" y="9" width="1" height="1" fill="#606060" shape-rendering="crispEdges"/>
<rect x="818" y="9" width="1" height="1" fill="#606060" shape-rendering="crispEdges"/>
<rect x="806" y="13" width="1" height="1" fill="#606060" shape-rendering="crispEdges"/>
<rect x="808" y="13" width="1" height="1" fill="#606060" shape-rendering="crispEdges"/>
<rect x="810" y="13" width="1" height="1" fill="#606060" shape-rendering="crispEdges"/>
<rect x="812" y="13" width="1" height="1" fill="#606060" shape-rendering="crispEdges"/>
<rect x="814" y="13" width="1" height="1" fill="#606060" shape-rendering="crispEdges"/>
<text x="816" y="17.800" font-size="6.500" font-weight="bold" fill="#404040">F</text>
<text x="836.400" y="14.100" font-size="12.500" font-weight="bold" fill="#5a5a5a" textLength="8.600" lengthAdjust="spacingAndGlyphs">A</text>
<rect x="863.300" y="3.300" width="10.800" height="11.800" fill="none" stroke="#606060" stroke-width="1" stroke-dasharray="1 1"/>
<text x="864.300" y="13.700" font-size="11.200" font-weight="bold" fill="#5a5a5a" textLength="9.300" lengthAdjust="spacingAndGlyphs">T</text>
<polygon points="893.700,3.100 897.300,6.600 893.700,8 890.200,6.600" fill="#484848"/>
<polygon points="897.200,12.200 903.800,12.200 900.500,15.600" fill="#484848"/><polygon points="897.200,12.400 900.500,10.600 903.800,12.400" fill="#484848"/>
<path d="M892.300 10.300l2 2 3.900-4.800" stroke="#484848" stroke-width="1.300" fill="none"/>
<text x="937" y="13" font-size="10.500" fill="#484848" textLength="14" lengthAdjust="spacingAndGlyphs">M1</text>
<text x="965.3" y="13" font-size="10.500" fill="#484848" textLength="13.5" lengthAdjust="spacingAndGlyphs">M5</text>
<text x="991.3" y="13" font-size="10.500" fill="#484848" textLength="18.5" lengthAdjust="spacingAndGlyphs">M15</text>
<text x="1019.2" y="13" font-size="10.500" fill="#484848" textLength="19" lengthAdjust="spacingAndGlyphs">M30</text>
<text x="1050" y="13" font-size="10.500" fill="#484848" textLength="13" lengthAdjust="spacingAndGlyphs">H1</text>
<text x="1077" y="13" font-size="10.500" fill="#484848" textLength="14" lengthAdjust="spacingAndGlyphs">H4</text>
<text x="1106.2" y="13" font-size="10.500" fill="#484848" textLength="12.5" lengthAdjust="spacingAndGlyphs">D1</text>
<text x="1133.7" y="13" font-size="10.500" fill="#484848" textLength="15.5" lengthAdjust="spacingAndGlyphs">W1</text>
<text x="1160.5" y="13" font-size="10.500" fill="#484848" textLength="16" lengthAdjust="spacingAndGlyphs">MN</text>
<line x1="1646.300" y1="13.300" x2="1651" y2="9" stroke="#2a58c8" stroke-width="2.400" stroke-linecap="round"/>
<circle cx="1653.700" cy="6.500" r="3.800" fill="#f4f8ff" stroke="#2a58c8" stroke-width="1.400"/>
<ellipse cx="1676" cy="11" rx="6" ry="4.800" fill="#e4e6ee" stroke="#b8bcc8" stroke-width="0.800"/>
<polygon points="1672.500,14.500 1673.500,17.800 1676.500,15.300" fill="#d4d7e0"/>
<circle cx="1684.400" cy="6.200" r="8.400" fill="url(#gRed)"/>
<text x="1684.600" y="11" font-size="13" fill="#fff" text-anchor="middle">1</text>
</g>
</svg></body></html>
